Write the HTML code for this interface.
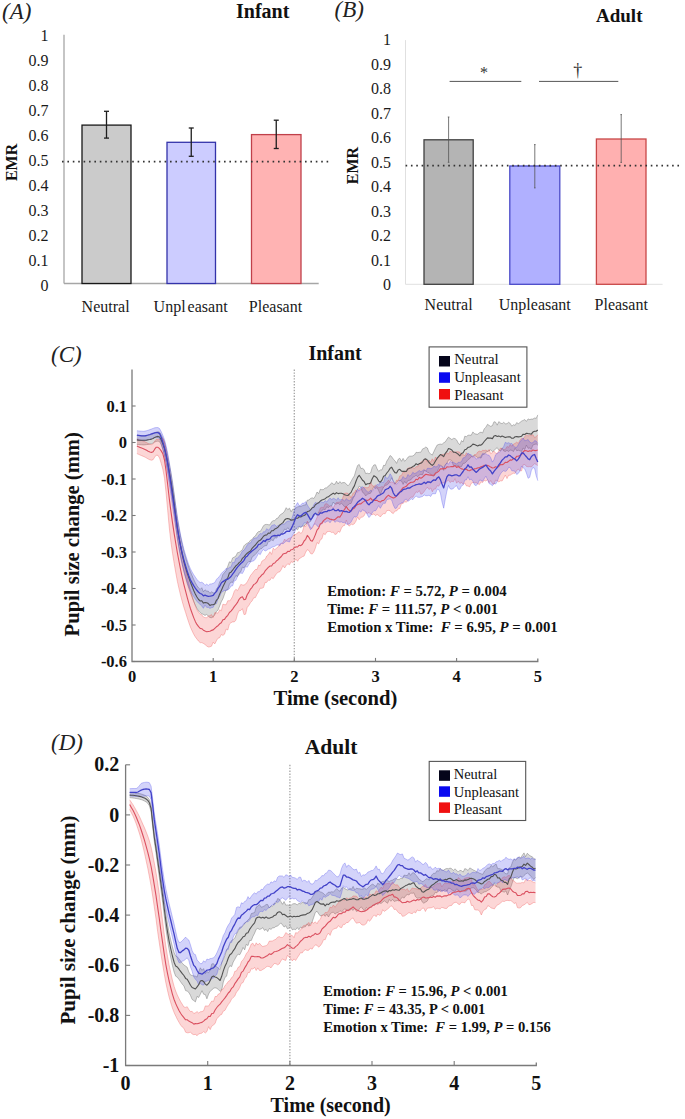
<!DOCTYPE html>
<html><head><meta charset="utf-8"><style>
html,body{margin:0;padding:0;background:#fff;width:685px;height:1119px;overflow:hidden;}
body{position:relative;font-family:"Liberation Serif", serif;}
</style></head><body>
<svg width="685" height="1119" viewBox="0 0 685 1119" style="position:absolute;left:0;top:0">
<text x="2" y="18.8" font-family="'Liberation Serif', serif" font-size="23" font-weight="normal" font-style="italic" text-anchor="start" fill="#222" >(A)</text>
<text x="236" y="17.8" font-family="'Liberation Serif', serif" font-size="20" font-weight="bold" font-style="normal" text-anchor="start" fill="#111" >Infant</text>
<line x1="64" y1="34.8" x2="64" y2="283.5" stroke="#a6a6a6" stroke-width="1.3"/>
<line x1="64" y1="283.5" x2="318.7" y2="283.5" stroke="#a6a6a6" stroke-width="1.3"/>
<text x="48.6" y="290.7" font-family="'Liberation Serif', serif" font-size="16" font-weight="normal" font-style="normal" text-anchor="end" fill="#1a1a1a" >0</text>
<text x="48.6" y="265.7" font-family="'Liberation Serif', serif" font-size="16" font-weight="normal" font-style="normal" text-anchor="end" fill="#1a1a1a" >0.1</text>
<text x="48.6" y="240.7" font-family="'Liberation Serif', serif" font-size="16" font-weight="normal" font-style="normal" text-anchor="end" fill="#1a1a1a" >0.2</text>
<text x="48.6" y="215.8" font-family="'Liberation Serif', serif" font-size="16" font-weight="normal" font-style="normal" text-anchor="end" fill="#1a1a1a" >0.3</text>
<text x="48.6" y="190.8" font-family="'Liberation Serif', serif" font-size="16" font-weight="normal" font-style="normal" text-anchor="end" fill="#1a1a1a" >0.4</text>
<text x="48.6" y="165.8" font-family="'Liberation Serif', serif" font-size="16" font-weight="normal" font-style="normal" text-anchor="end" fill="#1a1a1a" >0.5</text>
<text x="48.6" y="140.8" font-family="'Liberation Serif', serif" font-size="16" font-weight="normal" font-style="normal" text-anchor="end" fill="#1a1a1a" >0.6</text>
<text x="48.6" y="115.8" font-family="'Liberation Serif', serif" font-size="16" font-weight="normal" font-style="normal" text-anchor="end" fill="#1a1a1a" >0.7</text>
<text x="48.6" y="90.9" font-family="'Liberation Serif', serif" font-size="16" font-weight="normal" font-style="normal" text-anchor="end" fill="#1a1a1a" >0.8</text>
<text x="48.6" y="65.9" font-family="'Liberation Serif', serif" font-size="16" font-weight="normal" font-style="normal" text-anchor="end" fill="#1a1a1a" >0.9</text>
<text x="48.6" y="40.9" font-family="'Liberation Serif', serif" font-size="16" font-weight="normal" font-style="normal" text-anchor="end" fill="#1a1a1a" >1</text>
<text x="0" y="0" transform="translate(16.6,162.4) rotate(-90)" font-family="'Liberation Serif', serif" font-size="16" font-weight="bold" text-anchor="middle" fill="#111">EMR</text>
<rect x="82" y="125.1" width="49" height="158.4" fill="#cbcbcb" stroke="#181818" stroke-width="1.3"/>
<rect x="167" y="142.3" width="48.5" height="141.2" fill="#ccccff" stroke="#3333aa" stroke-width="1.3"/>
<rect x="251.5" y="134.6" width="49.5" height="148.9" fill="#ffb3b3" stroke="#c0404a" stroke-width="1.3"/>
<line x1="106.5" y1="111.3" x2="106.5" y2="138.1" stroke="#1e1e1e" stroke-width="1.3"/>
<line x1="104.0" y1="111.3" x2="109.0" y2="111.3" stroke="#1e1e1e" stroke-width="1.3"/>
<line x1="104.0" y1="138.1" x2="109.0" y2="138.1" stroke="#1e1e1e" stroke-width="1.3"/>
<line x1="191.25" y1="128.0" x2="191.25" y2="156.3" stroke="#1e1e1e" stroke-width="1.3"/>
<line x1="188.75" y1="128.0" x2="193.75" y2="128.0" stroke="#1e1e1e" stroke-width="1.3"/>
<line x1="188.75" y1="156.3" x2="193.75" y2="156.3" stroke="#1e1e1e" stroke-width="1.3"/>
<line x1="276.25" y1="120.2" x2="276.25" y2="148.5" stroke="#1e1e1e" stroke-width="1.3"/>
<line x1="273.75" y1="120.2" x2="278.75" y2="120.2" stroke="#1e1e1e" stroke-width="1.3"/>
<line x1="273.75" y1="148.5" x2="278.75" y2="148.5" stroke="#1e1e1e" stroke-width="1.3"/>
<line x1="62.0" y1="161.7" x2="332" y2="161.7" stroke="#333" stroke-width="1.7" stroke-dasharray="1.6 3.8"/>
<text x="105.6" y="311.5" font-family="'Liberation Serif', serif" font-size="16" font-weight="normal" font-style="normal" text-anchor="middle" fill="#1a1a1a" >Neutral</text>
<text x="190.6" y="311.5" font-family="'Liberation Serif', serif" font-size="16" font-weight="normal" font-style="normal" text-anchor="middle" fill="#1a1a1a" >Unpl<tspan dx="2">easant</tspan></text>
<text x="275.5" y="311.5" font-family="'Liberation Serif', serif" font-size="16" font-weight="normal" font-style="normal" text-anchor="middle" fill="#1a1a1a" >Pleasant</text>
<text x="334.5" y="16.6" font-family="'Liberation Serif', serif" font-size="23" font-weight="normal" font-style="italic" text-anchor="start" fill="#222" >(B)</text>
<text x="596" y="21.6" font-family="'Liberation Serif', serif" font-size="19" font-weight="bold" font-style="normal" text-anchor="start" fill="#111" >Adult</text>
<line x1="405.5" y1="40.1" x2="405.5" y2="284.3" stroke="#e0e0e0" stroke-width="1.0"/>
<line x1="405.5" y1="284.3" x2="662.6" y2="284.3" stroke="#e0e0e0" stroke-width="1.0"/>
<text x="391" y="290.3" font-family="'Liberation Serif', serif" font-size="16" font-weight="normal" font-style="normal" text-anchor="end" fill="#1a1a1a" >0</text>
<text x="391" y="265.8" font-family="'Liberation Serif', serif" font-size="16" font-weight="normal" font-style="normal" text-anchor="end" fill="#1a1a1a" >0.1</text>
<text x="391" y="241.3" font-family="'Liberation Serif', serif" font-size="16" font-weight="normal" font-style="normal" text-anchor="end" fill="#1a1a1a" >0.2</text>
<text x="391" y="216.8" font-family="'Liberation Serif', serif" font-size="16" font-weight="normal" font-style="normal" text-anchor="end" fill="#1a1a1a" >0.3</text>
<text x="391" y="192.3" font-family="'Liberation Serif', serif" font-size="16" font-weight="normal" font-style="normal" text-anchor="end" fill="#1a1a1a" >0.4</text>
<text x="391" y="167.8" font-family="'Liberation Serif', serif" font-size="16" font-weight="normal" font-style="normal" text-anchor="end" fill="#1a1a1a" >0.5</text>
<text x="391" y="143.3" font-family="'Liberation Serif', serif" font-size="16" font-weight="normal" font-style="normal" text-anchor="end" fill="#1a1a1a" >0.6</text>
<text x="391" y="118.8" font-family="'Liberation Serif', serif" font-size="16" font-weight="normal" font-style="normal" text-anchor="end" fill="#1a1a1a" >0.7</text>
<text x="391" y="94.3" font-family="'Liberation Serif', serif" font-size="16" font-weight="normal" font-style="normal" text-anchor="end" fill="#1a1a1a" >0.8</text>
<text x="391" y="69.8" font-family="'Liberation Serif', serif" font-size="16" font-weight="normal" font-style="normal" text-anchor="end" fill="#1a1a1a" >0.9</text>
<text x="391" y="45.3" font-family="'Liberation Serif', serif" font-size="16" font-weight="normal" font-style="normal" text-anchor="end" fill="#1a1a1a" >1</text>
<text x="0" y="0" transform="translate(358.3,165.6) rotate(-90)" font-family="'Liberation Serif', serif" font-size="16" font-weight="bold" text-anchor="middle" fill="#111">EMR</text>
<rect x="424" y="139.8" width="49.19999999999999" height="144.5" fill="#b4b4b4" stroke="#404040" stroke-width="1.3"/>
<rect x="509.8" y="166.0" width="49.99999999999994" height="118.3" fill="#b0b0ff" stroke="#4a4ac8" stroke-width="1.3"/>
<rect x="596.4" y="139.0" width="49.60000000000002" height="145.3" fill="#ffb0b0" stroke="#c84848" stroke-width="1.3"/>
<line x1="448.6" y1="117.0" x2="448.6" y2="162.3" stroke="#555" stroke-width="0.8"/>
<line x1="447.8" y1="117.0" x2="449.40000000000003" y2="117.0" stroke="#555" stroke-width="0.8"/>
<line x1="447.8" y1="162.3" x2="449.40000000000003" y2="162.3" stroke="#555" stroke-width="0.8"/>
<line x1="534.8" y1="144.6" x2="534.8" y2="187.9" stroke="#555" stroke-width="0.8"/>
<line x1="534.0" y1="144.6" x2="535.5999999999999" y2="144.6" stroke="#555" stroke-width="0.8"/>
<line x1="534.0" y1="187.9" x2="535.5999999999999" y2="187.9" stroke="#555" stroke-width="0.8"/>
<line x1="621.2" y1="114.6" x2="621.2" y2="162.4" stroke="#555" stroke-width="0.8"/>
<line x1="620.4000000000001" y1="114.6" x2="622.0" y2="114.6" stroke="#555" stroke-width="0.8"/>
<line x1="620.4000000000001" y1="162.4" x2="622.0" y2="162.4" stroke="#555" stroke-width="0.8"/>
<line x1="405.6" y1="165.7" x2="680" y2="165.7" stroke="#333" stroke-width="1.7" stroke-dasharray="1.6 3.73"/>
<text x="448.6" y="310" font-family="'Liberation Serif', serif" font-size="16" font-weight="normal" font-style="normal" text-anchor="middle" fill="#1a1a1a" >Neutral</text>
<text x="534.8" y="310" font-family="'Liberation Serif', serif" font-size="16" font-weight="normal" font-style="normal" text-anchor="middle" fill="#1a1a1a" >Unpleasant</text>
<text x="621.2" y="310" font-family="'Liberation Serif', serif" font-size="16" font-weight="normal" font-style="normal" text-anchor="middle" fill="#1a1a1a" >Pleasant</text>
<line x1="449.6" y1="81.4" x2="521.3" y2="81.4" stroke="#555" stroke-width="1"/>
<line x1="539" y1="81.4" x2="618.3" y2="81.4" stroke="#555" stroke-width="1"/>
<text x="484.1" y="78" font-family="'Liberation Serif', serif" font-size="16" font-weight="normal" font-style="normal" text-anchor="middle" fill="#333" >*</text>
<text x="577.7" y="75.5" font-family="'Liberation Serif', serif" font-size="18" font-weight="normal" font-style="normal" text-anchor="middle" fill="#333" >†</text>
<text x="51" y="361.5" font-family="'Liberation Serif', serif" font-size="23" font-weight="normal" font-style="italic" text-anchor="start" fill="#222" >(C)</text>
<text x="308.4" y="360" font-family="'Liberation Serif', serif" font-size="20" font-weight="bold" font-style="normal" text-anchor="start" fill="#111" >Infant</text>
<line x1="294.3" y1="369.5" x2="294.3" y2="661.5" stroke="#a4a4a4" stroke-width="1.3" stroke-dasharray="1.4 1.5"/>
<polygon points="136.9,435.5 138.5,435.6 140.1,435.7 141.7,435.8 143.4,435.8 145.0,435.7 146.6,435.5 148.2,435.2 149.9,434.9 151.5,434.5 153.1,433.8 154.7,432.7 156.3,432.0 158.0,431.7 159.6,432.2 161.2,434.7 162.8,438.1 164.5,442.7 166.1,448.5 167.7,455.7 169.3,463.9 171.0,473.0 172.6,482.6 174.2,494.2 175.8,506.9 177.4,518.9 179.1,528.8 180.7,537.3 182.3,544.8 183.9,551.5 185.6,557.4 187.2,562.6 188.8,567.3 190.4,571.6 192.1,575.6 193.7,579.4 195.3,582.8 196.9,585.6 198.6,588.0 200.2,589.4 201.8,587.7 203.4,591.8 205.0,589.8 206.7,591.1 208.3,591.1 209.9,593.3 211.5,591.8 213.2,592.8 214.8,593.3 216.4,589.0 218.0,586.9 219.7,581.9 221.3,579.4 222.9,574.5 224.5,572.6 226.1,570.8 227.8,566.2 229.4,561.8 231.0,562.5 232.6,557.9 234.3,557.1 235.9,556.1 237.5,552.7 239.1,552.4 240.8,551.0 242.4,549.7 244.0,545.8 245.6,544.2 247.2,543.3 248.9,542.3 250.5,540.2 252.1,539.5 253.7,537.1 255.4,536.0 257.0,533.0 258.6,531.6 260.2,531.5 261.9,528.7 263.5,525.7 265.1,524.6 266.7,524.4 268.3,524.7 270.0,524.9 271.6,521.8 273.2,520.7 274.8,520.7 276.5,518.5 278.1,518.0 279.7,515.3 281.3,514.1 283.0,513.1 284.6,511.1 286.2,507.7 287.8,509.6 289.5,508.2 291.1,511.8 292.7,509.3 294.3,509.2 295.9,508.0 297.6,506.9 299.2,506.5 300.8,506.5 302.4,505.7 304.1,505.0 305.7,505.0 307.3,500.2 308.9,500.0 310.6,498.4 312.2,497.8 313.8,498.5 315.4,496.0 317.0,492.0 318.7,493.6 320.3,489.3 321.9,489.7 323.5,489.6 325.2,487.9 326.8,487.9 328.4,485.9 330.0,485.0 331.7,482.7 333.3,484.1 334.9,484.3 336.5,481.2 338.1,484.0 339.8,481.6 341.4,483.1 343.0,482.6 344.6,482.6 346.3,483.9 347.9,485.9 349.5,484.2 351.1,481.4 352.8,478.3 354.4,475.8 356.0,470.2 357.6,465.5 359.2,464.4 360.9,468.5 362.5,468.3 364.1,469.6 365.7,473.6 367.4,473.2 369.0,473.8 370.6,472.9 372.2,467.5 373.9,464.9 375.5,464.8 377.1,468.8 378.7,471.4 380.3,469.9 382.0,469.9 383.6,465.3 385.2,465.5 386.8,461.1 388.5,458.5 390.1,455.5 391.7,456.7 393.3,459.2 395.0,460.8 396.6,463.4 398.2,459.3 399.8,458.2 401.5,461.3 403.1,458.4 404.7,461.3 406.3,459.7 407.9,457.3 409.6,456.2 411.2,456.2 412.8,455.9 414.4,455.0 416.1,452.3 417.7,452.6 419.3,452.3 420.9,452.2 422.6,448.9 424.2,448.3 425.8,447.0 427.4,448.0 429.0,452.4 430.7,453.9 432.3,455.1 433.9,451.5 435.5,448.1 437.2,445.0 438.8,444.4 440.4,444.1 442.0,444.4 443.7,442.8 445.3,441.9 446.9,439.3 448.5,437.2 450.1,438.3 451.8,439.6 453.4,438.4 455.0,438.5 456.6,439.9 458.3,443.3 459.9,444.7 461.5,440.6 463.1,442.0 464.8,436.2 466.4,436.7 468.0,435.2 469.6,435.2 471.2,435.3 472.9,431.9 474.5,433.7 476.1,434.1 477.7,434.3 479.4,432.8 481.0,432.1 482.6,433.0 484.2,428.9 485.9,427.2 487.5,424.3 489.1,425.4 490.7,426.4 492.4,425.6 494.0,421.7 495.6,422.2 497.2,425.2 498.8,421.6 500.5,423.0 502.1,423.7 503.7,422.3 505.3,423.8 507.0,423.7 508.6,422.3 510.2,423.4 511.8,426.2 513.5,424.7 515.1,425.4 516.7,422.6 518.3,423.7 519.9,422.5 521.6,421.1 523.2,420.4 524.8,419.6 526.4,421.4 528.1,418.9 529.7,419.6 531.3,419.1 532.9,419.1 534.6,418.0 536.2,418.4 537.8,414.9 537.8,445.2 536.2,443.9 534.6,444.4 532.9,445.0 531.3,449.3 529.7,448.0 528.1,448.3 526.4,445.1 524.8,449.5 523.2,448.0 521.6,451.4 519.9,450.8 518.3,450.2 516.7,450.7 515.1,448.2 513.5,451.5 511.8,450.4 510.2,450.1 508.6,451.5 507.0,450.4 505.3,451.4 503.7,451.0 502.1,448.2 500.5,450.9 498.8,450.3 497.2,447.6 495.6,449.0 494.0,450.5 492.4,451.7 490.7,449.8 489.1,450.8 487.5,451.5 485.9,452.1 484.2,454.2 482.6,454.5 481.0,458.2 479.4,457.2 477.7,457.6 476.1,456.4 474.5,455.4 472.9,456.2 471.2,456.7 469.6,458.8 468.0,459.6 466.4,461.7 464.8,463.2 463.1,463.4 461.5,466.5 459.9,466.8 458.3,465.4 456.6,466.2 455.0,465.9 453.4,465.7 451.8,460.5 450.1,459.9 448.5,459.9 446.9,463.5 445.3,464.7 443.7,470.4 442.0,466.1 440.4,465.0 438.8,468.3 437.2,471.4 435.5,473.9 433.9,476.2 432.3,475.7 430.7,474.5 429.0,472.6 427.4,472.3 425.8,470.8 424.2,470.3 422.6,474.7 420.9,474.4 419.3,474.9 417.7,476.8 416.1,475.1 414.4,476.6 412.8,477.2 411.2,479.5 409.6,480.3 407.9,480.5 406.3,483.4 404.7,481.4 403.1,484.4 401.5,481.0 399.8,480.5 398.2,480.6 396.6,482.6 395.0,484.3 393.3,481.5 391.7,477.7 390.1,481.1 388.5,483.6 386.8,485.0 385.2,485.5 383.6,487.0 382.0,490.3 380.3,494.5 378.7,490.7 377.1,487.6 375.5,488.6 373.9,486.5 372.2,489.8 370.6,493.2 369.0,493.7 367.4,494.1 365.7,496.0 364.1,493.4 362.5,492.3 360.9,487.1 359.2,486.2 357.6,489.4 356.0,492.3 354.4,495.9 352.8,498.9 351.1,503.4 349.5,503.7 347.9,505.0 346.3,506.5 344.6,506.8 343.0,504.9 341.4,503.2 339.8,504.7 338.1,503.2 336.5,504.0 334.9,504.1 333.3,502.0 331.7,505.9 330.0,505.8 328.4,507.7 326.8,506.7 325.2,509.6 323.5,509.3 321.9,510.4 320.3,512.8 318.7,512.1 317.0,515.3 315.4,513.6 313.8,515.9 312.2,517.6 310.6,521.4 308.9,522.5 307.3,522.8 305.7,524.0 304.1,526.0 302.4,526.3 300.8,527.5 299.2,526.7 297.6,529.8 295.9,528.3 294.3,530.4 292.7,530.6 291.1,528.8 289.5,529.9 287.8,527.7 286.2,529.8 284.6,529.0 283.0,532.1 281.3,533.6 279.7,534.6 278.1,536.2 276.5,538.2 274.8,537.6 273.2,540.8 271.6,539.7 270.0,541.5 268.3,541.6 266.7,545.6 265.1,545.7 263.5,546.6 261.9,548.4 260.2,549.0 258.6,550.4 257.0,552.8 255.4,554.1 253.7,556.0 252.1,557.0 250.5,561.7 248.9,561.4 247.2,563.1 245.6,565.6 244.0,567.9 242.4,567.0 240.8,571.8 239.1,572.9 237.5,576.5 235.9,575.5 234.3,578.6 232.6,582.5 231.0,582.0 229.4,584.3 227.8,589.6 226.1,589.8 224.5,594.3 222.9,598.8 221.3,601.7 219.7,605.9 218.0,610.1 216.4,611.5 214.8,614.7 213.2,616.8 211.5,617.7 209.9,617.5 208.3,616.1 206.7,614.5 205.0,615.4 203.4,614.4 201.8,613.8 200.2,612.6 198.6,610.9 196.9,608.3 195.3,605.2 193.7,601.5 192.1,597.3 190.4,593.0 188.8,588.5 187.2,583.5 185.6,578.0 183.9,571.8 182.3,564.8 180.7,557.0 179.1,548.2 177.4,538.1 175.8,525.7 174.2,512.7 172.6,500.9 171.0,490.1 169.3,479.8 167.7,470.4 166.1,462.1 164.5,455.1 162.8,449.4 161.2,444.8 159.6,441.7 158.0,441.1 156.3,441.4 154.7,442.0 153.1,443.1 151.5,443.7 149.9,444.1 148.2,444.4 146.6,444.6 145.0,444.8 143.4,444.9 141.7,444.8 140.1,444.7 138.5,444.5 136.9,444.4" fill="rgba(110,110,110,0.26)" stroke="none"/>
<polyline points="136.9,435.5 138.5,435.6 140.1,435.7 141.7,435.8 143.4,435.8 145.0,435.7 146.6,435.5 148.2,435.2 149.9,434.9 151.5,434.5 153.1,433.8 154.7,432.7 156.3,432.0 158.0,431.7 159.6,432.2 161.2,434.7 162.8,438.1 164.5,442.7 166.1,448.5 167.7,455.7 169.3,463.9 171.0,473.0 172.6,482.6 174.2,494.2 175.8,506.9 177.4,518.9 179.1,528.8 180.7,537.3 182.3,544.8 183.9,551.5 185.6,557.4 187.2,562.6 188.8,567.3 190.4,571.6 192.1,575.6 193.7,579.4 195.3,582.8 196.9,585.6 198.6,588.0 200.2,589.4 201.8,587.7 203.4,591.8 205.0,589.8 206.7,591.1 208.3,591.1 209.9,593.3 211.5,591.8 213.2,592.8 214.8,593.3 216.4,589.0 218.0,586.9 219.7,581.9 221.3,579.4 222.9,574.5 224.5,572.6 226.1,570.8 227.8,566.2 229.4,561.8 231.0,562.5 232.6,557.9 234.3,557.1 235.9,556.1 237.5,552.7 239.1,552.4 240.8,551.0 242.4,549.7 244.0,545.8 245.6,544.2 247.2,543.3 248.9,542.3 250.5,540.2 252.1,539.5 253.7,537.1 255.4,536.0 257.0,533.0 258.6,531.6 260.2,531.5 261.9,528.7 263.5,525.7 265.1,524.6 266.7,524.4 268.3,524.7 270.0,524.9 271.6,521.8 273.2,520.7 274.8,520.7 276.5,518.5 278.1,518.0 279.7,515.3 281.3,514.1 283.0,513.1 284.6,511.1 286.2,507.7 287.8,509.6 289.5,508.2 291.1,511.8 292.7,509.3 294.3,509.2 295.9,508.0 297.6,506.9 299.2,506.5 300.8,506.5 302.4,505.7 304.1,505.0 305.7,505.0 307.3,500.2 308.9,500.0 310.6,498.4 312.2,497.8 313.8,498.5 315.4,496.0 317.0,492.0 318.7,493.6 320.3,489.3 321.9,489.7 323.5,489.6 325.2,487.9 326.8,487.9 328.4,485.9 330.0,485.0 331.7,482.7 333.3,484.1 334.9,484.3 336.5,481.2 338.1,484.0 339.8,481.6 341.4,483.1 343.0,482.6 344.6,482.6 346.3,483.9 347.9,485.9 349.5,484.2 351.1,481.4 352.8,478.3 354.4,475.8 356.0,470.2 357.6,465.5 359.2,464.4 360.9,468.5 362.5,468.3 364.1,469.6 365.7,473.6 367.4,473.2 369.0,473.8 370.6,472.9 372.2,467.5 373.9,464.9 375.5,464.8 377.1,468.8 378.7,471.4 380.3,469.9 382.0,469.9 383.6,465.3 385.2,465.5 386.8,461.1 388.5,458.5 390.1,455.5 391.7,456.7 393.3,459.2 395.0,460.8 396.6,463.4 398.2,459.3 399.8,458.2 401.5,461.3 403.1,458.4 404.7,461.3 406.3,459.7 407.9,457.3 409.6,456.2 411.2,456.2 412.8,455.9 414.4,455.0 416.1,452.3 417.7,452.6 419.3,452.3 420.9,452.2 422.6,448.9 424.2,448.3 425.8,447.0 427.4,448.0 429.0,452.4 430.7,453.9 432.3,455.1 433.9,451.5 435.5,448.1 437.2,445.0 438.8,444.4 440.4,444.1 442.0,444.4 443.7,442.8 445.3,441.9 446.9,439.3 448.5,437.2 450.1,438.3 451.8,439.6 453.4,438.4 455.0,438.5 456.6,439.9 458.3,443.3 459.9,444.7 461.5,440.6 463.1,442.0 464.8,436.2 466.4,436.7 468.0,435.2 469.6,435.2 471.2,435.3 472.9,431.9 474.5,433.7 476.1,434.1 477.7,434.3 479.4,432.8 481.0,432.1 482.6,433.0 484.2,428.9 485.9,427.2 487.5,424.3 489.1,425.4 490.7,426.4 492.4,425.6 494.0,421.7 495.6,422.2 497.2,425.2 498.8,421.6 500.5,423.0 502.1,423.7 503.7,422.3 505.3,423.8 507.0,423.7 508.6,422.3 510.2,423.4 511.8,426.2 513.5,424.7 515.1,425.4 516.7,422.6 518.3,423.7 519.9,422.5 521.6,421.1 523.2,420.4 524.8,419.6 526.4,421.4 528.1,418.9 529.7,419.6 531.3,419.1 532.9,419.1 534.6,418.0 536.2,418.4 537.8,414.9" fill="none" stroke="rgba(90,90,90,0.42)" stroke-width="0.9"/>
<polyline points="136.9,444.4 138.5,444.5 140.1,444.7 141.7,444.8 143.4,444.9 145.0,444.8 146.6,444.6 148.2,444.4 149.9,444.1 151.5,443.7 153.1,443.1 154.7,442.0 156.3,441.4 158.0,441.1 159.6,441.7 161.2,444.8 162.8,449.4 164.5,455.1 166.1,462.1 167.7,470.4 169.3,479.8 171.0,490.1 172.6,500.9 174.2,512.7 175.8,525.7 177.4,538.1 179.1,548.2 180.7,557.0 182.3,564.8 183.9,571.8 185.6,578.0 187.2,583.5 188.8,588.5 190.4,593.0 192.1,597.3 193.7,601.5 195.3,605.2 196.9,608.3 198.6,610.9 200.2,612.6 201.8,613.8 203.4,614.4 205.0,615.4 206.7,614.5 208.3,616.1 209.9,617.5 211.5,617.7 213.2,616.8 214.8,614.7 216.4,611.5 218.0,610.1 219.7,605.9 221.3,601.7 222.9,598.8 224.5,594.3 226.1,589.8 227.8,589.6 229.4,584.3 231.0,582.0 232.6,582.5 234.3,578.6 235.9,575.5 237.5,576.5 239.1,572.9 240.8,571.8 242.4,567.0 244.0,567.9 245.6,565.6 247.2,563.1 248.9,561.4 250.5,561.7 252.1,557.0 253.7,556.0 255.4,554.1 257.0,552.8 258.6,550.4 260.2,549.0 261.9,548.4 263.5,546.6 265.1,545.7 266.7,545.6 268.3,541.6 270.0,541.5 271.6,539.7 273.2,540.8 274.8,537.6 276.5,538.2 278.1,536.2 279.7,534.6 281.3,533.6 283.0,532.1 284.6,529.0 286.2,529.8 287.8,527.7 289.5,529.9 291.1,528.8 292.7,530.6 294.3,530.4 295.9,528.3 297.6,529.8 299.2,526.7 300.8,527.5 302.4,526.3 304.1,526.0 305.7,524.0 307.3,522.8 308.9,522.5 310.6,521.4 312.2,517.6 313.8,515.9 315.4,513.6 317.0,515.3 318.7,512.1 320.3,512.8 321.9,510.4 323.5,509.3 325.2,509.6 326.8,506.7 328.4,507.7 330.0,505.8 331.7,505.9 333.3,502.0 334.9,504.1 336.5,504.0 338.1,503.2 339.8,504.7 341.4,503.2 343.0,504.9 344.6,506.8 346.3,506.5 347.9,505.0 349.5,503.7 351.1,503.4 352.8,498.9 354.4,495.9 356.0,492.3 357.6,489.4 359.2,486.2 360.9,487.1 362.5,492.3 364.1,493.4 365.7,496.0 367.4,494.1 369.0,493.7 370.6,493.2 372.2,489.8 373.9,486.5 375.5,488.6 377.1,487.6 378.7,490.7 380.3,494.5 382.0,490.3 383.6,487.0 385.2,485.5 386.8,485.0 388.5,483.6 390.1,481.1 391.7,477.7 393.3,481.5 395.0,484.3 396.6,482.6 398.2,480.6 399.8,480.5 401.5,481.0 403.1,484.4 404.7,481.4 406.3,483.4 407.9,480.5 409.6,480.3 411.2,479.5 412.8,477.2 414.4,476.6 416.1,475.1 417.7,476.8 419.3,474.9 420.9,474.4 422.6,474.7 424.2,470.3 425.8,470.8 427.4,472.3 429.0,472.6 430.7,474.5 432.3,475.7 433.9,476.2 435.5,473.9 437.2,471.4 438.8,468.3 440.4,465.0 442.0,466.1 443.7,470.4 445.3,464.7 446.9,463.5 448.5,459.9 450.1,459.9 451.8,460.5 453.4,465.7 455.0,465.9 456.6,466.2 458.3,465.4 459.9,466.8 461.5,466.5 463.1,463.4 464.8,463.2 466.4,461.7 468.0,459.6 469.6,458.8 471.2,456.7 472.9,456.2 474.5,455.4 476.1,456.4 477.7,457.6 479.4,457.2 481.0,458.2 482.6,454.5 484.2,454.2 485.9,452.1 487.5,451.5 489.1,450.8 490.7,449.8 492.4,451.7 494.0,450.5 495.6,449.0 497.2,447.6 498.8,450.3 500.5,450.9 502.1,448.2 503.7,451.0 505.3,451.4 507.0,450.4 508.6,451.5 510.2,450.1 511.8,450.4 513.5,451.5 515.1,448.2 516.7,450.7 518.3,450.2 519.9,450.8 521.6,451.4 523.2,448.0 524.8,449.5 526.4,445.1 528.1,448.3 529.7,448.0 531.3,449.3 532.9,445.0 534.6,444.4 536.2,443.9 537.8,445.2" fill="none" stroke="rgba(90,90,90,0.42)" stroke-width="0.9"/>
<polygon points="136.9,438.7 138.5,439.3 140.1,439.9 141.7,440.5 143.4,441.1 145.0,441.8 146.6,442.6 148.2,443.5 149.9,444.2 151.5,444.6 153.1,443.9 154.7,441.2 156.3,439.3 158.0,439.3 159.6,439.2 161.2,438.5 162.8,438.3 164.5,441.8 166.1,449.3 167.7,459.2 169.3,469.6 171.0,481.1 172.6,493.0 174.2,503.9 175.8,514.1 177.4,524.6 179.1,535.0 180.7,544.7 182.3,553.6 183.9,562.0 185.6,569.7 187.2,576.8 188.8,583.6 190.4,590.0 192.1,595.8 193.7,601.1 195.3,605.8 196.9,609.8 198.6,612.3 200.2,614.1 201.8,614.8 203.4,617.0 205.0,617.7 206.7,617.6 208.3,616.0 209.9,615.7 211.5,614.6 213.2,617.5 214.8,612.7 216.4,612.8 218.0,613.2 219.7,609.8 221.3,610.8 222.9,604.2 224.5,604.6 226.1,604.8 227.8,600.7 229.4,600.8 231.0,599.5 232.6,596.3 234.3,591.2 235.9,589.2 237.5,590.7 239.1,587.8 240.8,584.4 242.4,584.9 244.0,585.1 245.6,584.1 247.2,581.9 248.9,578.8 250.5,575.5 252.1,573.6 253.7,571.4 255.4,569.5 257.0,569.5 258.6,565.1 260.2,565.6 261.9,561.2 263.5,560.1 265.1,559.4 266.7,556.0 268.3,554.6 270.0,551.7 271.6,554.4 273.2,548.2 274.8,549.7 276.5,548.2 278.1,547.0 279.7,544.2 281.3,543.6 283.0,542.5 284.6,539.1 286.2,540.7 287.8,538.8 289.5,538.2 291.1,537.7 292.7,536.6 294.3,534.3 295.9,534.6 297.6,532.7 299.2,531.7 300.8,533.5 302.4,531.8 304.1,525.8 305.7,526.5 307.3,521.0 308.9,524.2 310.6,527.6 312.2,528.4 313.8,524.9 315.4,521.1 317.0,517.6 318.7,512.3 320.3,507.9 321.9,507.2 323.5,507.7 325.2,503.9 326.8,503.7 328.4,504.8 330.0,507.0 331.7,506.3 333.3,507.8 334.9,504.6 336.5,502.3 338.1,502.3 339.8,501.9 341.4,501.5 343.0,497.1 344.6,493.3 346.3,493.0 347.9,493.3 349.5,495.1 351.1,498.0 352.8,493.4 354.4,492.5 356.0,489.8 357.6,492.3 359.2,487.9 360.9,490.4 362.5,487.9 364.1,487.1 365.7,487.7 367.4,487.7 369.0,487.1 370.6,482.0 372.2,485.5 373.9,486.3 375.5,485.2 377.1,486.4 378.7,487.7 380.3,487.3 382.0,486.5 383.6,487.3 385.2,483.6 386.8,482.5 388.5,480.1 390.1,482.6 391.7,481.8 393.3,482.7 395.0,484.0 396.6,480.1 398.2,480.4 399.8,475.9 401.5,475.4 403.1,471.9 404.7,472.7 406.3,470.4 407.9,468.1 409.6,467.8 411.2,467.3 412.8,467.4 414.4,468.5 416.1,466.6 417.7,466.8 419.3,464.2 420.9,462.1 422.6,461.1 424.2,459.4 425.8,459.2 427.4,462.1 429.0,460.2 430.7,462.3 432.3,458.8 433.9,461.4 435.5,457.0 437.2,459.2 438.8,456.0 440.4,454.8 442.0,454.7 443.7,454.4 445.3,454.2 446.9,452.7 448.5,453.9 450.1,451.1 451.8,451.9 453.4,451.3 455.0,452.4 456.6,451.8 458.3,451.8 459.9,452.3 461.5,455.3 463.1,454.3 464.8,456.1 466.4,452.7 468.0,455.0 469.6,454.6 471.2,456.2 472.9,457.3 474.5,454.6 476.1,454.7 477.7,452.1 479.4,451.1 481.0,451.8 482.6,450.3 484.2,450.5 485.9,450.0 487.5,451.2 489.1,449.5 490.7,453.7 492.4,452.5 494.0,451.1 495.6,453.2 497.2,453.6 498.8,450.9 500.5,448.1 502.1,448.6 503.7,449.7 505.3,449.5 507.0,446.5 508.6,447.3 510.2,444.5 511.8,446.3 513.5,444.1 515.1,443.4 516.7,442.1 518.3,443.4 519.9,440.2 521.6,438.2 523.2,439.0 524.8,436.4 526.4,434.9 528.1,436.1 529.7,434.8 531.3,435.6 532.9,434.6 534.6,437.7 536.2,436.7 537.8,434.7 537.8,465.5 536.2,464.6 534.6,463.6 532.9,465.3 531.3,467.0 529.7,466.6 528.1,466.8 526.4,466.4 524.8,464.5 523.2,464.6 521.6,470.8 519.9,470.8 518.3,469.2 516.7,470.4 515.1,473.3 513.5,473.2 511.8,474.1 510.2,475.2 508.6,475.3 507.0,478.6 505.3,475.1 503.7,478.2 502.1,481.0 500.5,480.8 498.8,481.9 497.2,480.7 495.6,480.1 494.0,484.3 492.4,483.6 490.7,480.5 489.1,482.7 487.5,479.5 485.9,481.1 484.2,480.2 482.6,482.5 481.0,481.8 479.4,484.6 477.7,483.7 476.1,482.6 474.5,482.8 472.9,482.4 471.2,483.4 469.6,486.9 468.0,486.0 466.4,485.9 464.8,483.0 463.1,484.3 461.5,482.4 459.9,483.5 458.3,481.2 456.6,483.2 455.0,478.6 453.4,481.8 451.8,481.2 450.1,482.5 448.5,480.1 446.9,481.1 445.3,483.4 443.7,482.9 442.0,483.0 440.4,483.1 438.8,486.2 437.2,485.6 435.5,489.1 433.9,489.1 432.3,491.8 430.7,488.0 429.0,489.5 427.4,487.2 425.8,489.1 424.2,491.5 422.6,493.4 420.9,494.3 419.3,490.6 417.7,492.5 416.1,491.8 414.4,494.5 412.8,497.3 411.2,497.1 409.6,498.4 407.9,500.6 406.3,502.3 404.7,501.5 403.1,503.6 401.5,503.5 399.8,508.5 398.2,508.9 396.6,511.0 395.0,511.0 393.3,513.6 391.7,512.7 390.1,510.7 388.5,510.4 386.8,510.6 385.2,513.7 383.6,513.6 382.0,514.7 380.3,517.0 378.7,515.4 377.1,514.4 375.5,515.7 373.9,513.9 372.2,514.7 370.6,514.1 369.0,512.4 367.4,513.5 365.7,512.3 364.1,515.8 362.5,517.0 360.9,517.3 359.2,519.8 357.6,516.8 356.0,521.1 354.4,523.7 352.8,524.7 351.1,524.0 349.5,526.1 347.9,524.9 346.3,520.1 344.6,525.5 343.0,525.8 341.4,528.2 339.8,532.3 338.1,531.3 336.5,534.0 334.9,534.5 333.3,532.1 331.7,532.6 330.0,531.4 328.4,531.5 326.8,531.9 325.2,534.7 323.5,533.4 321.9,538.9 320.3,539.8 318.7,543.9 317.0,542.5 315.4,548.1 313.8,551.9 312.2,554.1 310.6,553.5 308.9,550.5 307.3,549.7 305.7,552.2 304.1,556.1 302.4,556.7 300.8,557.8 299.2,558.7 297.6,561.3 295.9,559.2 294.3,561.1 292.7,562.4 291.1,561.7 289.5,564.8 287.8,563.8 286.2,565.5 284.6,568.0 283.0,565.6 281.3,569.5 279.7,571.9 278.1,572.3 276.5,573.6 274.8,576.2 273.2,578.7 271.6,577.6 270.0,580.3 268.3,580.1 266.7,582.4 265.1,582.4 263.5,587.5 261.9,588.3 260.2,588.2 258.6,591.7 257.0,594.3 255.4,597.6 253.7,597.8 252.1,600.9 250.5,602.6 248.9,605.4 247.2,607.5 245.6,614.2 244.0,614.6 242.4,608.7 240.8,610.4 239.1,610.7 237.5,614.1 235.9,620.1 234.3,621.9 232.6,621.9 231.0,622.7 229.4,624.1 227.8,630.0 226.1,629.1 224.5,634.2 222.9,635.4 221.3,634.5 219.7,637.7 218.0,638.2 216.4,640.8 214.8,643.9 213.2,642.2 211.5,646.2 209.9,646.8 208.3,647.0 206.7,646.0 205.0,644.5 203.4,643.4 201.8,642.6 200.2,642.7 198.6,641.2 196.9,639.0 195.3,636.9 193.7,634.2 192.1,630.9 190.4,627.0 188.8,622.6 187.2,617.7 185.6,612.6 183.9,607.3 182.3,601.8 180.7,595.8 179.1,589.1 177.4,581.5 175.8,572.9 174.2,563.6 172.6,553.7 171.0,542.7 169.3,528.0 167.7,510.3 166.1,493.1 164.5,478.3 162.8,469.0 161.2,463.3 159.6,458.2 158.0,455.4 156.3,455.2 154.7,457.1 153.1,459.7 151.5,460.2 149.9,459.8 148.2,459.0 146.6,458.0 145.0,457.1 143.4,456.4 141.7,455.7 140.1,455.0 138.5,454.3 136.9,453.6" fill="rgba(240,70,70,0.22)" stroke="none"/>
<polyline points="136.9,438.7 138.5,439.3 140.1,439.9 141.7,440.5 143.4,441.1 145.0,441.8 146.6,442.6 148.2,443.5 149.9,444.2 151.5,444.6 153.1,443.9 154.7,441.2 156.3,439.3 158.0,439.3 159.6,439.2 161.2,438.5 162.8,438.3 164.5,441.8 166.1,449.3 167.7,459.2 169.3,469.6 171.0,481.1 172.6,493.0 174.2,503.9 175.8,514.1 177.4,524.6 179.1,535.0 180.7,544.7 182.3,553.6 183.9,562.0 185.6,569.7 187.2,576.8 188.8,583.6 190.4,590.0 192.1,595.8 193.7,601.1 195.3,605.8 196.9,609.8 198.6,612.3 200.2,614.1 201.8,614.8 203.4,617.0 205.0,617.7 206.7,617.6 208.3,616.0 209.9,615.7 211.5,614.6 213.2,617.5 214.8,612.7 216.4,612.8 218.0,613.2 219.7,609.8 221.3,610.8 222.9,604.2 224.5,604.6 226.1,604.8 227.8,600.7 229.4,600.8 231.0,599.5 232.6,596.3 234.3,591.2 235.9,589.2 237.5,590.7 239.1,587.8 240.8,584.4 242.4,584.9 244.0,585.1 245.6,584.1 247.2,581.9 248.9,578.8 250.5,575.5 252.1,573.6 253.7,571.4 255.4,569.5 257.0,569.5 258.6,565.1 260.2,565.6 261.9,561.2 263.5,560.1 265.1,559.4 266.7,556.0 268.3,554.6 270.0,551.7 271.6,554.4 273.2,548.2 274.8,549.7 276.5,548.2 278.1,547.0 279.7,544.2 281.3,543.6 283.0,542.5 284.6,539.1 286.2,540.7 287.8,538.8 289.5,538.2 291.1,537.7 292.7,536.6 294.3,534.3 295.9,534.6 297.6,532.7 299.2,531.7 300.8,533.5 302.4,531.8 304.1,525.8 305.7,526.5 307.3,521.0 308.9,524.2 310.6,527.6 312.2,528.4 313.8,524.9 315.4,521.1 317.0,517.6 318.7,512.3 320.3,507.9 321.9,507.2 323.5,507.7 325.2,503.9 326.8,503.7 328.4,504.8 330.0,507.0 331.7,506.3 333.3,507.8 334.9,504.6 336.5,502.3 338.1,502.3 339.8,501.9 341.4,501.5 343.0,497.1 344.6,493.3 346.3,493.0 347.9,493.3 349.5,495.1 351.1,498.0 352.8,493.4 354.4,492.5 356.0,489.8 357.6,492.3 359.2,487.9 360.9,490.4 362.5,487.9 364.1,487.1 365.7,487.7 367.4,487.7 369.0,487.1 370.6,482.0 372.2,485.5 373.9,486.3 375.5,485.2 377.1,486.4 378.7,487.7 380.3,487.3 382.0,486.5 383.6,487.3 385.2,483.6 386.8,482.5 388.5,480.1 390.1,482.6 391.7,481.8 393.3,482.7 395.0,484.0 396.6,480.1 398.2,480.4 399.8,475.9 401.5,475.4 403.1,471.9 404.7,472.7 406.3,470.4 407.9,468.1 409.6,467.8 411.2,467.3 412.8,467.4 414.4,468.5 416.1,466.6 417.7,466.8 419.3,464.2 420.9,462.1 422.6,461.1 424.2,459.4 425.8,459.2 427.4,462.1 429.0,460.2 430.7,462.3 432.3,458.8 433.9,461.4 435.5,457.0 437.2,459.2 438.8,456.0 440.4,454.8 442.0,454.7 443.7,454.4 445.3,454.2 446.9,452.7 448.5,453.9 450.1,451.1 451.8,451.9 453.4,451.3 455.0,452.4 456.6,451.8 458.3,451.8 459.9,452.3 461.5,455.3 463.1,454.3 464.8,456.1 466.4,452.7 468.0,455.0 469.6,454.6 471.2,456.2 472.9,457.3 474.5,454.6 476.1,454.7 477.7,452.1 479.4,451.1 481.0,451.8 482.6,450.3 484.2,450.5 485.9,450.0 487.5,451.2 489.1,449.5 490.7,453.7 492.4,452.5 494.0,451.1 495.6,453.2 497.2,453.6 498.8,450.9 500.5,448.1 502.1,448.6 503.7,449.7 505.3,449.5 507.0,446.5 508.6,447.3 510.2,444.5 511.8,446.3 513.5,444.1 515.1,443.4 516.7,442.1 518.3,443.4 519.9,440.2 521.6,438.2 523.2,439.0 524.8,436.4 526.4,434.9 528.1,436.1 529.7,434.8 531.3,435.6 532.9,434.6 534.6,437.7 536.2,436.7 537.8,434.7" fill="none" stroke="rgba(240,70,70,0.35)" stroke-width="0.9"/>
<polyline points="136.9,453.6 138.5,454.3 140.1,455.0 141.7,455.7 143.4,456.4 145.0,457.1 146.6,458.0 148.2,459.0 149.9,459.8 151.5,460.2 153.1,459.7 154.7,457.1 156.3,455.2 158.0,455.4 159.6,458.2 161.2,463.3 162.8,469.0 164.5,478.3 166.1,493.1 167.7,510.3 169.3,528.0 171.0,542.7 172.6,553.7 174.2,563.6 175.8,572.9 177.4,581.5 179.1,589.1 180.7,595.8 182.3,601.8 183.9,607.3 185.6,612.6 187.2,617.7 188.8,622.6 190.4,627.0 192.1,630.9 193.7,634.2 195.3,636.9 196.9,639.0 198.6,641.2 200.2,642.7 201.8,642.6 203.4,643.4 205.0,644.5 206.7,646.0 208.3,647.0 209.9,646.8 211.5,646.2 213.2,642.2 214.8,643.9 216.4,640.8 218.0,638.2 219.7,637.7 221.3,634.5 222.9,635.4 224.5,634.2 226.1,629.1 227.8,630.0 229.4,624.1 231.0,622.7 232.6,621.9 234.3,621.9 235.9,620.1 237.5,614.1 239.1,610.7 240.8,610.4 242.4,608.7 244.0,614.6 245.6,614.2 247.2,607.5 248.9,605.4 250.5,602.6 252.1,600.9 253.7,597.8 255.4,597.6 257.0,594.3 258.6,591.7 260.2,588.2 261.9,588.3 263.5,587.5 265.1,582.4 266.7,582.4 268.3,580.1 270.0,580.3 271.6,577.6 273.2,578.7 274.8,576.2 276.5,573.6 278.1,572.3 279.7,571.9 281.3,569.5 283.0,565.6 284.6,568.0 286.2,565.5 287.8,563.8 289.5,564.8 291.1,561.7 292.7,562.4 294.3,561.1 295.9,559.2 297.6,561.3 299.2,558.7 300.8,557.8 302.4,556.7 304.1,556.1 305.7,552.2 307.3,549.7 308.9,550.5 310.6,553.5 312.2,554.1 313.8,551.9 315.4,548.1 317.0,542.5 318.7,543.9 320.3,539.8 321.9,538.9 323.5,533.4 325.2,534.7 326.8,531.9 328.4,531.5 330.0,531.4 331.7,532.6 333.3,532.1 334.9,534.5 336.5,534.0 338.1,531.3 339.8,532.3 341.4,528.2 343.0,525.8 344.6,525.5 346.3,520.1 347.9,524.9 349.5,526.1 351.1,524.0 352.8,524.7 354.4,523.7 356.0,521.1 357.6,516.8 359.2,519.8 360.9,517.3 362.5,517.0 364.1,515.8 365.7,512.3 367.4,513.5 369.0,512.4 370.6,514.1 372.2,514.7 373.9,513.9 375.5,515.7 377.1,514.4 378.7,515.4 380.3,517.0 382.0,514.7 383.6,513.6 385.2,513.7 386.8,510.6 388.5,510.4 390.1,510.7 391.7,512.7 393.3,513.6 395.0,511.0 396.6,511.0 398.2,508.9 399.8,508.5 401.5,503.5 403.1,503.6 404.7,501.5 406.3,502.3 407.9,500.6 409.6,498.4 411.2,497.1 412.8,497.3 414.4,494.5 416.1,491.8 417.7,492.5 419.3,490.6 420.9,494.3 422.6,493.4 424.2,491.5 425.8,489.1 427.4,487.2 429.0,489.5 430.7,488.0 432.3,491.8 433.9,489.1 435.5,489.1 437.2,485.6 438.8,486.2 440.4,483.1 442.0,483.0 443.7,482.9 445.3,483.4 446.9,481.1 448.5,480.1 450.1,482.5 451.8,481.2 453.4,481.8 455.0,478.6 456.6,483.2 458.3,481.2 459.9,483.5 461.5,482.4 463.1,484.3 464.8,483.0 466.4,485.9 468.0,486.0 469.6,486.9 471.2,483.4 472.9,482.4 474.5,482.8 476.1,482.6 477.7,483.7 479.4,484.6 481.0,481.8 482.6,482.5 484.2,480.2 485.9,481.1 487.5,479.5 489.1,482.7 490.7,480.5 492.4,483.6 494.0,484.3 495.6,480.1 497.2,480.7 498.8,481.9 500.5,480.8 502.1,481.0 503.7,478.2 505.3,475.1 507.0,478.6 508.6,475.3 510.2,475.2 511.8,474.1 513.5,473.2 515.1,473.3 516.7,470.4 518.3,469.2 519.9,470.8 521.6,470.8 523.2,464.6 524.8,464.5 526.4,466.4 528.1,466.8 529.7,466.6 531.3,467.0 532.9,465.3 534.6,463.6 536.2,464.6 537.8,465.5" fill="none" stroke="rgba(240,70,70,0.35)" stroke-width="0.9"/>
<polygon points="136.9,430.7 138.5,430.9 140.1,431.1 141.7,431.2 143.4,431.3 145.0,431.1 146.6,430.7 148.2,430.2 149.9,429.6 151.5,429.0 153.1,428.4 154.7,427.8 156.3,427.6 158.0,427.6 159.6,428.6 161.2,431.6 162.8,435.2 164.5,439.8 166.1,445.7 167.7,453.0 169.3,462.5 171.0,473.6 172.6,484.9 174.2,495.9 175.8,506.4 177.4,517.0 179.1,527.0 180.7,535.6 182.3,542.7 183.9,549.2 185.6,555.0 187.2,560.1 188.8,564.8 190.4,568.7 192.1,572.0 193.7,574.7 195.3,577.1 196.9,579.4 198.6,581.3 200.2,582.6 201.8,582.2 203.4,583.3 205.0,585.4 206.7,584.1 208.3,585.4 209.9,584.0 211.5,583.9 213.2,583.3 214.8,582.5 216.4,579.5 218.0,577.7 219.7,576.2 221.3,573.5 222.9,571.8 224.5,570.7 226.1,568.4 227.8,568.8 229.4,567.3 231.0,567.1 232.6,562.4 234.3,562.8 235.9,558.4 237.5,557.9 239.1,556.5 240.8,554.0 242.4,551.0 244.0,550.3 245.6,547.8 247.2,545.1 248.9,543.2 250.5,543.0 252.1,540.5 253.7,538.5 255.4,537.9 257.0,537.9 258.6,535.4 260.2,533.6 261.9,534.0 263.5,531.7 265.1,531.9 266.7,528.7 268.3,530.0 270.0,528.8 271.6,525.7 273.2,525.0 274.8,524.7 276.5,526.5 278.1,525.4 279.7,525.6 281.3,524.7 283.0,524.0 284.6,524.0 286.2,521.9 287.8,521.1 289.5,520.9 291.1,519.9 292.7,516.1 294.3,510.8 295.9,505.3 297.6,502.6 299.2,505.6 300.8,505.1 302.4,503.1 304.1,503.3 305.7,501.6 307.3,505.0 308.9,507.5 310.6,510.0 312.2,508.2 313.8,504.8 315.4,502.4 317.0,503.3 318.7,502.8 320.3,501.2 321.9,502.2 323.5,502.6 325.2,500.6 326.8,502.1 328.4,499.7 330.0,498.1 331.7,499.6 333.3,498.3 334.9,498.9 336.5,500.2 338.1,497.8 339.8,500.2 341.4,499.5 343.0,499.7 344.6,501.2 346.3,498.7 347.9,500.1 349.5,500.7 351.1,499.6 352.8,496.8 354.4,496.4 356.0,492.1 357.6,489.3 359.2,491.1 360.9,487.2 362.5,486.8 364.1,488.0 365.7,490.0 367.4,491.9 369.0,492.2 370.6,490.1 372.2,491.4 373.9,489.0 375.5,486.3 377.1,484.4 378.7,485.0 380.3,481.3 382.0,482.4 383.6,482.4 385.2,476.3 386.8,478.5 388.5,477.4 390.1,473.8 391.7,476.2 393.3,481.0 395.0,482.9 396.6,484.1 398.2,482.6 399.8,480.3 401.5,479.7 403.1,476.5 404.7,478.4 406.3,478.4 407.9,474.5 409.6,476.0 411.2,475.2 412.8,472.3 414.4,473.5 416.1,473.0 417.7,471.7 419.3,470.5 420.9,471.8 422.6,470.7 424.2,469.5 425.8,471.5 427.4,468.3 429.0,468.3 430.7,468.6 432.3,468.2 433.9,466.1 435.5,466.8 437.2,466.7 438.8,464.2 440.4,466.0 442.0,466.3 443.7,467.6 445.3,465.0 446.9,462.8 448.5,464.2 450.1,461.4 451.8,462.4 453.4,462.3 455.0,463.3 456.6,464.1 458.3,462.3 459.9,462.4 461.5,461.5 463.1,457.9 464.8,457.6 466.4,455.6 468.0,453.0 469.6,454.3 471.2,454.7 472.9,456.9 474.5,456.6 476.1,459.2 477.7,458.2 479.4,458.0 481.0,456.2 482.6,453.5 484.2,454.0 485.9,453.7 487.5,454.9 489.1,455.3 490.7,457.7 492.4,462.1 494.0,459.5 495.6,454.8 497.2,453.4 498.8,452.4 500.5,451.4 502.1,448.5 503.7,446.5 505.3,442.3 507.0,443.3 508.6,442.7 510.2,443.7 511.8,443.4 513.5,446.0 515.1,447.3 516.7,447.3 518.3,444.7 519.9,442.0 521.6,439.8 523.2,438.1 524.8,440.8 526.4,440.4 528.1,439.5 529.7,442.1 531.3,442.9 532.9,442.8 534.6,440.6 536.2,441.1 537.8,443.4 537.8,480.7 536.2,475.8 534.6,468.4 532.9,467.4 531.3,470.6 529.7,477.3 528.1,478.3 526.4,473.0 524.8,469.0 523.2,467.9 521.6,466.0 519.9,471.1 518.3,473.4 516.7,474.5 515.1,471.3 513.5,470.9 511.8,470.8 510.2,467.6 508.6,467.3 507.0,470.3 505.3,471.5 503.7,470.7 502.1,471.8 500.5,473.9 498.8,477.1 497.2,481.6 495.6,484.1 494.0,483.2 492.4,485.7 490.7,484.3 489.1,483.6 487.5,479.6 485.9,476.1 484.2,478.7 482.6,481.3 481.0,480.2 479.4,480.2 477.7,483.8 476.1,485.7 474.5,484.8 472.9,481.3 471.2,479.0 469.6,480.0 468.0,476.7 466.4,479.9 464.8,480.0 463.1,485.1 461.5,485.8 459.9,489.3 458.3,489.3 456.6,485.6 455.0,486.5 453.4,488.5 451.8,489.2 450.1,488.8 448.5,485.4 446.9,491.1 445.3,498.9 443.7,508.2 442.0,501.8 440.4,493.1 438.8,489.6 437.2,489.2 435.5,493.8 433.9,493.7 432.3,493.7 430.7,496.5 429.0,495.2 427.4,495.7 425.8,495.7 424.2,494.9 422.6,496.4 420.9,497.0 419.3,497.4 417.7,497.2 416.1,496.1 414.4,497.6 412.8,499.7 411.2,498.7 409.6,500.2 407.9,501.3 406.3,499.1 404.7,499.8 403.1,502.5 401.5,502.9 399.8,504.0 398.2,504.8 396.6,508.0 395.0,508.5 393.3,505.0 391.7,500.1 390.1,498.8 388.5,499.2 386.8,499.5 385.2,503.4 383.6,503.0 382.0,505.3 380.3,508.3 378.7,505.6 377.1,508.4 375.5,510.9 373.9,510.6 372.2,512.8 370.6,515.7 369.0,517.5 367.4,514.9 365.7,511.5 364.1,510.7 362.5,509.7 360.9,512.1 359.2,510.7 357.6,515.3 356.0,517.2 354.4,516.5 352.8,518.7 351.1,522.0 349.5,523.8 347.9,524.3 346.3,524.1 344.6,522.2 343.0,522.7 341.4,521.8 339.8,522.2 338.1,521.2 336.5,521.1 334.9,522.3 333.3,519.6 331.7,520.3 330.0,522.8 328.4,520.8 326.8,521.4 325.2,522.6 323.5,521.5 321.9,524.0 320.3,524.4 318.7,527.1 317.0,525.8 315.4,523.8 313.8,524.4 312.2,527.6 310.6,529.7 308.9,526.3 307.3,523.3 305.7,523.0 304.1,522.9 302.4,526.1 300.8,526.8 299.2,526.3 297.6,526.8 295.9,529.3 294.3,532.6 292.7,534.9 291.1,538.0 289.5,542.0 287.8,541.4 286.2,541.1 284.6,542.4 283.0,543.9 281.3,543.0 279.7,545.8 278.1,544.7 276.5,545.2 274.8,546.3 273.2,546.8 271.6,547.4 270.0,548.7 268.3,549.1 266.7,550.3 265.1,551.0 263.5,549.6 261.9,551.2 260.2,554.7 258.6,553.2 257.0,556.3 255.4,559.0 253.7,560.9 252.1,561.3 250.5,562.0 248.9,564.4 247.2,567.3 245.6,566.3 244.0,570.6 242.4,573.5 240.8,572.9 239.1,574.2 237.5,576.4 235.9,580.3 234.3,580.8 232.6,585.8 231.0,586.0 229.4,588.7 227.8,589.8 226.1,590.6 224.5,590.5 222.9,591.4 221.3,592.6 219.7,596.3 218.0,599.0 216.4,603.6 214.8,603.7 213.2,607.3 211.5,607.7 209.9,608.4 208.3,607.3 206.7,607.4 205.0,605.1 203.4,608.3 201.8,606.0 200.2,604.5 198.6,603.2 196.9,601.3 195.3,599.0 193.7,596.6 192.1,593.9 190.4,590.6 188.8,586.7 187.2,582.0 185.6,576.9 183.9,571.1 182.3,564.6 180.7,557.5 179.1,548.9 177.4,538.9 175.8,528.3 174.2,517.8 172.6,506.8 171.0,495.5 169.3,484.4 167.7,473.8 166.1,464.1 164.5,455.9 162.8,448.9 161.2,443.0 159.6,438.7 158.0,437.7 156.3,437.7 154.7,437.7 153.1,438.2 151.5,438.8 149.9,439.3 148.2,439.8 146.6,440.2 145.0,440.6 143.4,440.6 141.7,440.5 140.1,440.2 138.5,440.0 136.9,439.7" fill="rgba(70,70,235,0.24)" stroke="none"/>
<polyline points="136.9,430.7 138.5,430.9 140.1,431.1 141.7,431.2 143.4,431.3 145.0,431.1 146.6,430.7 148.2,430.2 149.9,429.6 151.5,429.0 153.1,428.4 154.7,427.8 156.3,427.6 158.0,427.6 159.6,428.6 161.2,431.6 162.8,435.2 164.5,439.8 166.1,445.7 167.7,453.0 169.3,462.5 171.0,473.6 172.6,484.9 174.2,495.9 175.8,506.4 177.4,517.0 179.1,527.0 180.7,535.6 182.3,542.7 183.9,549.2 185.6,555.0 187.2,560.1 188.8,564.8 190.4,568.7 192.1,572.0 193.7,574.7 195.3,577.1 196.9,579.4 198.6,581.3 200.2,582.6 201.8,582.2 203.4,583.3 205.0,585.4 206.7,584.1 208.3,585.4 209.9,584.0 211.5,583.9 213.2,583.3 214.8,582.5 216.4,579.5 218.0,577.7 219.7,576.2 221.3,573.5 222.9,571.8 224.5,570.7 226.1,568.4 227.8,568.8 229.4,567.3 231.0,567.1 232.6,562.4 234.3,562.8 235.9,558.4 237.5,557.9 239.1,556.5 240.8,554.0 242.4,551.0 244.0,550.3 245.6,547.8 247.2,545.1 248.9,543.2 250.5,543.0 252.1,540.5 253.7,538.5 255.4,537.9 257.0,537.9 258.6,535.4 260.2,533.6 261.9,534.0 263.5,531.7 265.1,531.9 266.7,528.7 268.3,530.0 270.0,528.8 271.6,525.7 273.2,525.0 274.8,524.7 276.5,526.5 278.1,525.4 279.7,525.6 281.3,524.7 283.0,524.0 284.6,524.0 286.2,521.9 287.8,521.1 289.5,520.9 291.1,519.9 292.7,516.1 294.3,510.8 295.9,505.3 297.6,502.6 299.2,505.6 300.8,505.1 302.4,503.1 304.1,503.3 305.7,501.6 307.3,505.0 308.9,507.5 310.6,510.0 312.2,508.2 313.8,504.8 315.4,502.4 317.0,503.3 318.7,502.8 320.3,501.2 321.9,502.2 323.5,502.6 325.2,500.6 326.8,502.1 328.4,499.7 330.0,498.1 331.7,499.6 333.3,498.3 334.9,498.9 336.5,500.2 338.1,497.8 339.8,500.2 341.4,499.5 343.0,499.7 344.6,501.2 346.3,498.7 347.9,500.1 349.5,500.7 351.1,499.6 352.8,496.8 354.4,496.4 356.0,492.1 357.6,489.3 359.2,491.1 360.9,487.2 362.5,486.8 364.1,488.0 365.7,490.0 367.4,491.9 369.0,492.2 370.6,490.1 372.2,491.4 373.9,489.0 375.5,486.3 377.1,484.4 378.7,485.0 380.3,481.3 382.0,482.4 383.6,482.4 385.2,476.3 386.8,478.5 388.5,477.4 390.1,473.8 391.7,476.2 393.3,481.0 395.0,482.9 396.6,484.1 398.2,482.6 399.8,480.3 401.5,479.7 403.1,476.5 404.7,478.4 406.3,478.4 407.9,474.5 409.6,476.0 411.2,475.2 412.8,472.3 414.4,473.5 416.1,473.0 417.7,471.7 419.3,470.5 420.9,471.8 422.6,470.7 424.2,469.5 425.8,471.5 427.4,468.3 429.0,468.3 430.7,468.6 432.3,468.2 433.9,466.1 435.5,466.8 437.2,466.7 438.8,464.2 440.4,466.0 442.0,466.3 443.7,467.6 445.3,465.0 446.9,462.8 448.5,464.2 450.1,461.4 451.8,462.4 453.4,462.3 455.0,463.3 456.6,464.1 458.3,462.3 459.9,462.4 461.5,461.5 463.1,457.9 464.8,457.6 466.4,455.6 468.0,453.0 469.6,454.3 471.2,454.7 472.9,456.9 474.5,456.6 476.1,459.2 477.7,458.2 479.4,458.0 481.0,456.2 482.6,453.5 484.2,454.0 485.9,453.7 487.5,454.9 489.1,455.3 490.7,457.7 492.4,462.1 494.0,459.5 495.6,454.8 497.2,453.4 498.8,452.4 500.5,451.4 502.1,448.5 503.7,446.5 505.3,442.3 507.0,443.3 508.6,442.7 510.2,443.7 511.8,443.4 513.5,446.0 515.1,447.3 516.7,447.3 518.3,444.7 519.9,442.0 521.6,439.8 523.2,438.1 524.8,440.8 526.4,440.4 528.1,439.5 529.7,442.1 531.3,442.9 532.9,442.8 534.6,440.6 536.2,441.1 537.8,443.4" fill="none" stroke="rgba(70,70,235,0.35)" stroke-width="0.9"/>
<polyline points="136.9,439.7 138.5,440.0 140.1,440.2 141.7,440.5 143.4,440.6 145.0,440.6 146.6,440.2 148.2,439.8 149.9,439.3 151.5,438.8 153.1,438.2 154.7,437.7 156.3,437.7 158.0,437.7 159.6,438.7 161.2,443.0 162.8,448.9 164.5,455.9 166.1,464.1 167.7,473.8 169.3,484.4 171.0,495.5 172.6,506.8 174.2,517.8 175.8,528.3 177.4,538.9 179.1,548.9 180.7,557.5 182.3,564.6 183.9,571.1 185.6,576.9 187.2,582.0 188.8,586.7 190.4,590.6 192.1,593.9 193.7,596.6 195.3,599.0 196.9,601.3 198.6,603.2 200.2,604.5 201.8,606.0 203.4,608.3 205.0,605.1 206.7,607.4 208.3,607.3 209.9,608.4 211.5,607.7 213.2,607.3 214.8,603.7 216.4,603.6 218.0,599.0 219.7,596.3 221.3,592.6 222.9,591.4 224.5,590.5 226.1,590.6 227.8,589.8 229.4,588.7 231.0,586.0 232.6,585.8 234.3,580.8 235.9,580.3 237.5,576.4 239.1,574.2 240.8,572.9 242.4,573.5 244.0,570.6 245.6,566.3 247.2,567.3 248.9,564.4 250.5,562.0 252.1,561.3 253.7,560.9 255.4,559.0 257.0,556.3 258.6,553.2 260.2,554.7 261.9,551.2 263.5,549.6 265.1,551.0 266.7,550.3 268.3,549.1 270.0,548.7 271.6,547.4 273.2,546.8 274.8,546.3 276.5,545.2 278.1,544.7 279.7,545.8 281.3,543.0 283.0,543.9 284.6,542.4 286.2,541.1 287.8,541.4 289.5,542.0 291.1,538.0 292.7,534.9 294.3,532.6 295.9,529.3 297.6,526.8 299.2,526.3 300.8,526.8 302.4,526.1 304.1,522.9 305.7,523.0 307.3,523.3 308.9,526.3 310.6,529.7 312.2,527.6 313.8,524.4 315.4,523.8 317.0,525.8 318.7,527.1 320.3,524.4 321.9,524.0 323.5,521.5 325.2,522.6 326.8,521.4 328.4,520.8 330.0,522.8 331.7,520.3 333.3,519.6 334.9,522.3 336.5,521.1 338.1,521.2 339.8,522.2 341.4,521.8 343.0,522.7 344.6,522.2 346.3,524.1 347.9,524.3 349.5,523.8 351.1,522.0 352.8,518.7 354.4,516.5 356.0,517.2 357.6,515.3 359.2,510.7 360.9,512.1 362.5,509.7 364.1,510.7 365.7,511.5 367.4,514.9 369.0,517.5 370.6,515.7 372.2,512.8 373.9,510.6 375.5,510.9 377.1,508.4 378.7,505.6 380.3,508.3 382.0,505.3 383.6,503.0 385.2,503.4 386.8,499.5 388.5,499.2 390.1,498.8 391.7,500.1 393.3,505.0 395.0,508.5 396.6,508.0 398.2,504.8 399.8,504.0 401.5,502.9 403.1,502.5 404.7,499.8 406.3,499.1 407.9,501.3 409.6,500.2 411.2,498.7 412.8,499.7 414.4,497.6 416.1,496.1 417.7,497.2 419.3,497.4 420.9,497.0 422.6,496.4 424.2,494.9 425.8,495.7 427.4,495.7 429.0,495.2 430.7,496.5 432.3,493.7 433.9,493.7 435.5,493.8 437.2,489.2 438.8,489.6 440.4,493.1 442.0,501.8 443.7,508.2 445.3,498.9 446.9,491.1 448.5,485.4 450.1,488.8 451.8,489.2 453.4,488.5 455.0,486.5 456.6,485.6 458.3,489.3 459.9,489.3 461.5,485.8 463.1,485.1 464.8,480.0 466.4,479.9 468.0,476.7 469.6,480.0 471.2,479.0 472.9,481.3 474.5,484.8 476.1,485.7 477.7,483.8 479.4,480.2 481.0,480.2 482.6,481.3 484.2,478.7 485.9,476.1 487.5,479.6 489.1,483.6 490.7,484.3 492.4,485.7 494.0,483.2 495.6,484.1 497.2,481.6 498.8,477.1 500.5,473.9 502.1,471.8 503.7,470.7 505.3,471.5 507.0,470.3 508.6,467.3 510.2,467.6 511.8,470.8 513.5,470.9 515.1,471.3 516.7,474.5 518.3,473.4 519.9,471.1 521.6,466.0 523.2,467.9 524.8,469.0 526.4,473.0 528.1,478.3 529.7,477.3 531.3,470.6 532.9,467.4 534.6,468.4 536.2,475.8 537.8,480.7" fill="none" stroke="rgba(70,70,235,0.35)" stroke-width="0.9"/>
<polyline points="136.9,439.9 138.5,440.1 140.1,440.2 141.7,440.3 143.4,440.3 145.0,440.2 146.6,440.1 148.2,439.8 149.9,439.5 151.5,439.1 153.1,438.5 154.7,437.4 156.3,436.7 158.0,436.4 159.6,437.0 161.2,439.8 162.8,443.8 164.5,448.9 166.1,455.3 167.7,463.0 169.3,471.9 171.0,481.5 172.6,491.8 174.2,503.4 175.8,516.3 177.4,528.5 179.1,538.5 180.7,547.1 182.3,554.8 183.9,561.6 185.6,567.7 187.2,573.1 188.8,577.9 190.4,582.3 192.1,586.5 193.7,590.5 195.3,594.0 196.9,597.0 198.6,599.5 200.2,601.0 201.8,600.8 203.4,603.1 205.0,602.6 206.7,602.8 208.3,603.6 209.9,605.4 211.5,604.8 213.2,604.8 214.8,604.0 216.4,600.3 218.0,598.5 219.7,593.9 221.3,590.6 222.9,586.7 224.5,583.4 226.1,580.3 227.8,577.9 229.4,573.0 231.0,572.2 232.6,570.2 234.3,567.8 235.9,565.8 237.5,564.6 239.1,562.6 240.8,561.4 242.4,558.3 244.0,556.8 245.6,554.9 247.2,553.2 248.9,551.9 250.5,551.0 252.1,548.3 253.7,546.6 255.4,545.0 257.0,542.9 258.6,541.0 260.2,540.3 261.9,538.5 263.5,536.2 265.1,535.1 266.7,535.0 268.3,533.1 270.0,533.2 271.6,530.7 273.2,530.7 274.8,529.1 276.5,528.3 278.1,527.1 279.7,525.0 281.3,523.9 283.0,522.6 284.6,520.0 286.2,518.8 287.8,518.6 289.5,519.0 291.1,520.3 292.7,519.9 294.3,519.8 295.9,518.2 297.6,518.3 299.2,516.6 300.8,517.0 302.4,516.0 304.1,515.5 305.7,514.5 307.3,511.5 308.9,511.3 310.6,509.9 312.2,507.7 313.8,507.2 315.4,504.8 317.0,503.6 318.7,502.8 320.3,501.0 321.9,500.1 323.5,499.5 325.2,498.7 326.8,497.3 328.4,496.8 330.0,495.4 331.7,494.3 333.3,493.1 334.9,494.2 336.5,492.6 338.1,493.6 339.8,493.2 341.4,493.2 343.0,493.8 344.6,494.7 346.3,495.2 347.9,495.5 349.5,493.9 351.1,492.4 352.8,488.6 354.4,485.9 356.0,481.2 357.6,477.4 359.2,475.3 360.9,477.8 362.5,480.3 364.1,481.5 365.7,484.8 367.4,483.7 369.0,483.8 370.6,483.0 372.2,478.7 373.9,475.7 375.5,476.7 377.1,478.2 378.7,481.1 380.3,482.2 382.0,480.1 383.6,476.2 385.2,475.5 386.8,473.0 388.5,471.0 390.1,468.3 391.7,467.2 393.3,470.3 395.0,472.6 396.6,473.0 398.2,469.9 399.8,469.3 401.5,471.2 403.1,471.4 404.7,471.3 406.3,471.5 407.9,468.9 409.6,468.3 411.2,467.8 412.8,466.6 414.4,465.8 416.1,463.7 417.7,464.7 419.3,463.6 420.9,463.3 422.6,461.8 424.2,459.3 425.8,458.9 427.4,460.1 429.0,462.5 430.7,464.2 432.3,465.4 433.9,463.8 435.5,461.0 437.2,458.2 438.8,456.4 440.4,454.5 442.0,455.3 443.7,456.6 445.3,453.3 446.9,451.4 448.5,448.5 450.1,449.1 451.8,450.0 453.4,452.1 455.0,452.2 456.6,453.1 458.3,454.3 459.9,455.8 461.5,453.5 463.1,452.7 464.8,449.7 466.4,449.2 468.0,447.4 469.6,447.0 471.2,446.0 472.9,444.1 474.5,444.5 476.1,445.2 477.7,446.0 479.4,445.0 481.0,445.1 482.6,443.8 484.2,441.5 485.9,439.6 487.5,437.9 489.1,438.1 490.7,438.1 492.4,438.6 494.0,436.1 495.6,435.6 497.2,436.4 498.8,435.9 500.5,436.9 502.1,436.0 503.7,436.7 505.3,437.6 507.0,437.0 508.6,436.9 510.2,436.8 511.8,438.3 513.5,438.1 515.1,436.8 516.7,436.6 518.3,436.9 519.9,436.6 521.6,436.2 523.2,434.2 524.8,434.5 526.4,433.3 528.1,433.6 529.7,433.8 531.3,434.2 532.9,432.1 534.6,431.2 536.2,431.2 537.8,430.0" fill="none" stroke="#525252" stroke-width="1.1" stroke-linejoin="round"/>
<polyline points="136.9,446.1 138.5,446.8 140.1,447.4 141.7,448.1 143.4,448.7 145.0,449.4 146.6,450.3 148.2,451.3 149.9,452.0 151.5,452.4 153.1,451.8 154.7,449.2 156.3,447.2 158.0,447.3 159.6,448.7 161.2,450.9 162.8,453.6 164.5,460.0 166.1,471.2 167.7,484.7 169.3,498.8 171.0,511.9 172.6,523.4 174.2,533.8 175.8,543.5 177.4,553.0 179.1,562.0 180.7,570.2 182.3,577.7 183.9,584.6 185.6,591.1 187.2,597.3 188.8,603.1 190.4,608.5 192.1,613.3 193.7,617.6 195.3,621.4 196.9,624.4 198.6,626.7 200.2,628.4 201.8,628.7 203.4,630.2 205.0,631.1 206.7,631.8 208.3,631.5 209.9,631.2 211.5,630.4 213.2,629.9 214.8,628.3 216.4,626.8 218.0,625.7 219.7,623.8 221.3,622.7 222.9,619.8 224.5,619.4 226.1,617.0 227.8,615.3 229.4,612.5 231.0,611.1 232.6,609.1 234.3,606.6 235.9,604.7 237.5,602.4 239.1,599.3 240.8,597.4 242.4,596.8 244.0,599.8 245.6,599.2 247.2,594.7 248.9,592.1 250.5,589.1 252.1,587.3 253.7,584.6 255.4,583.6 257.0,581.9 258.6,578.4 260.2,576.9 261.9,574.8 263.5,573.8 265.1,570.9 266.7,569.2 268.3,567.4 270.0,566.0 271.6,566.0 273.2,563.5 274.8,563.0 276.5,560.9 278.1,559.7 279.7,558.0 281.3,556.5 283.0,554.1 284.6,553.5 286.2,553.1 287.8,551.3 289.5,551.5 291.1,549.7 292.7,549.5 294.3,547.7 295.9,546.9 297.6,547.0 299.2,545.2 300.8,545.6 302.4,544.3 304.1,541.0 305.7,539.3 307.3,535.4 308.9,537.3 310.6,540.5 312.2,541.2 313.8,538.4 315.4,534.6 317.0,530.1 318.7,528.1 320.3,523.9 321.9,523.1 323.5,520.6 325.2,519.3 326.8,517.8 328.4,518.2 330.0,519.2 331.7,519.4 333.3,520.0 334.9,519.6 336.5,518.1 338.1,516.8 339.8,517.1 341.4,514.8 343.0,511.4 344.6,509.4 346.3,506.5 347.9,509.1 349.5,510.6 351.1,511.0 352.8,509.0 354.4,508.1 356.0,505.4 357.6,504.6 359.2,503.9 360.9,503.9 362.5,502.4 364.1,501.4 365.7,500.0 367.4,500.6 369.0,499.8 370.6,498.1 372.2,500.1 373.9,500.1 375.5,500.4 377.1,500.4 378.7,501.6 380.3,502.1 382.0,500.6 383.6,500.5 385.2,498.6 386.8,496.6 388.5,495.2 390.1,496.6 391.7,497.3 393.3,498.1 395.0,497.5 396.6,495.6 398.2,494.6 399.8,492.2 401.5,489.5 403.1,487.7 404.7,487.1 406.3,486.3 407.9,484.3 409.6,483.1 411.2,482.2 412.8,482.3 414.4,481.5 416.1,479.2 417.7,479.7 419.3,477.4 420.9,478.2 422.6,477.2 424.2,475.5 425.8,474.2 427.4,474.6 429.0,474.9 430.7,475.1 432.3,475.3 433.9,475.3 435.5,473.1 437.2,472.4 438.8,471.1 440.4,468.9 442.0,468.9 443.7,468.6 445.3,468.8 446.9,466.9 448.5,467.0 450.1,466.8 451.8,466.5 453.4,466.6 455.0,465.5 456.6,467.5 458.3,466.5 459.9,467.9 461.5,468.9 463.1,469.3 464.8,469.5 466.4,469.3 468.0,470.5 469.6,470.8 471.2,469.8 472.9,469.8 474.5,468.7 476.1,468.6 477.7,467.9 479.4,467.8 481.0,466.8 482.6,466.4 484.2,465.3 485.9,465.5 487.5,465.4 489.1,466.1 490.7,467.1 492.4,468.0 494.0,467.7 495.6,466.7 497.2,467.2 498.8,466.4 500.5,464.5 502.1,464.8 503.7,463.9 505.3,462.3 507.0,462.5 508.6,461.3 510.2,459.9 511.8,460.2 513.5,458.7 515.1,458.4 516.7,456.3 518.3,456.3 519.9,455.5 521.6,454.5 523.2,451.8 524.8,450.5 526.4,450.7 528.1,451.5 529.7,450.7 531.3,451.3 532.9,450.0 534.6,450.6 536.2,450.6 537.8,450.1" fill="none" stroke="#da5060" stroke-width="1.1" stroke-linejoin="round"/>
<polyline points="136.9,435.2 138.5,435.4 140.1,435.6 141.7,435.9 143.4,435.9 145.0,435.8 146.6,435.5 148.2,435.0 149.9,434.5 151.5,433.9 153.1,433.3 154.7,432.8 156.3,432.6 158.0,432.6 159.6,433.6 161.2,437.3 162.8,442.1 164.5,447.9 166.1,454.9 167.7,463.4 169.3,473.5 171.0,484.5 172.6,495.9 174.2,506.9 175.8,517.4 177.4,528.0 179.1,538.0 180.7,546.5 182.3,553.7 183.9,560.1 185.6,565.9 187.2,571.1 188.8,575.7 190.4,579.7 192.1,582.9 193.7,585.6 195.3,588.1 196.9,590.3 198.6,592.2 200.2,593.5 201.8,594.1 203.4,595.8 205.0,595.2 206.7,595.8 208.3,596.4 209.9,596.2 211.5,595.8 213.2,595.3 214.8,593.1 216.4,591.6 218.0,588.4 219.7,586.2 221.3,583.0 222.9,581.6 224.5,580.6 226.1,579.5 227.8,579.3 229.4,578.0 231.0,576.5 232.6,574.1 234.3,571.8 235.9,569.4 237.5,567.1 239.1,565.4 240.8,563.5 242.4,562.2 244.0,560.4 245.6,557.1 247.2,556.2 248.9,553.8 250.5,552.5 252.1,550.9 253.7,549.7 255.4,548.5 257.0,547.1 258.6,544.3 260.2,544.1 261.9,542.6 263.5,540.6 265.1,541.5 266.7,539.5 268.3,539.5 270.0,538.8 271.6,536.5 273.2,535.9 274.8,535.5 276.5,535.8 278.1,535.1 279.7,535.7 281.3,533.8 283.0,534.0 284.6,533.2 286.2,531.5 287.8,531.2 289.5,531.4 291.1,528.9 292.7,525.5 294.3,521.7 295.9,517.3 297.6,514.7 299.2,516.0 300.8,516.0 302.4,514.6 304.1,513.1 305.7,512.3 307.3,514.1 308.9,516.9 310.6,519.8 312.2,517.9 313.8,514.6 315.4,513.1 317.0,514.6 318.7,514.9 320.3,512.8 321.9,513.1 323.5,512.1 325.2,511.6 326.8,511.7 328.4,510.3 330.0,510.5 331.7,510.0 333.3,508.9 334.9,510.6 336.5,510.7 338.1,509.5 339.8,511.2 341.4,510.6 343.0,511.2 344.6,511.7 346.3,511.4 347.9,512.2 349.5,512.3 351.1,510.8 352.8,507.7 354.4,506.5 356.0,504.7 357.6,502.3 359.2,500.9 360.9,499.7 362.5,498.2 364.1,499.3 365.7,500.7 367.4,503.4 369.0,504.8 370.6,502.9 372.2,502.1 373.9,499.8 375.5,498.6 377.1,496.4 378.7,495.3 380.3,494.8 382.0,493.8 383.6,492.7 385.2,489.8 386.8,489.0 388.5,488.3 390.1,486.3 391.7,488.2 393.3,493.0 395.0,495.7 396.6,496.0 398.2,493.7 399.8,492.1 401.5,491.3 403.1,489.5 404.7,489.1 406.3,488.8 407.9,487.9 409.6,488.1 411.2,487.0 412.8,486.0 414.4,485.5 416.1,484.6 417.7,484.4 419.3,483.9 420.9,484.4 422.6,483.6 424.2,482.2 425.8,483.6 427.4,482.0 429.0,481.8 430.7,482.6 432.3,480.9 433.9,479.9 435.5,480.3 437.2,478.0 438.8,476.9 440.4,479.6 442.0,484.0 443.7,487.9 445.3,481.9 446.9,476.9 448.5,474.8 450.1,475.1 451.8,475.8 453.4,475.4 455.0,474.9 456.6,474.8 458.3,475.8 459.9,475.8 461.5,473.7 463.1,471.5 464.8,468.8 466.4,467.7 468.0,464.8 469.6,467.1 471.2,466.8 472.9,469.1 474.5,470.7 476.1,472.4 477.7,471.0 479.4,469.1 481.0,468.2 482.6,467.4 484.2,466.3 485.9,464.9 487.5,467.3 489.1,469.5 490.7,471.0 492.4,473.9 494.0,471.4 495.6,469.4 497.2,467.5 498.8,464.8 500.5,462.6 502.1,460.1 503.7,458.6 505.3,456.9 507.0,456.8 508.6,455.0 510.2,455.6 511.8,457.1 513.5,458.4 515.1,459.3 516.7,460.9 518.3,459.1 519.9,456.6 521.6,452.9 523.2,453.0 524.8,454.9 526.4,456.7 528.1,458.9 529.7,459.7 531.3,456.8 532.9,455.1 534.6,454.5 536.2,458.5 537.8,462.1" fill="none" stroke="#4242c8" stroke-width="1.3" stroke-linejoin="round"/>
<polyline points="132,369.5 132,661.5 537.8,661.5 537.8,658.5" fill="none" stroke="#7a7a7a" stroke-width="1.3"/>
<line x1="132" y1="406.0" x2="135.6" y2="406.0" stroke="#7a7a7a" stroke-width="1.1"/>
<text x="127" y="411.8" font-family="'Liberation Serif', serif" font-size="16.5" font-weight="bold" font-style="normal" text-anchor="end" fill="#111" >0.1</text>
<line x1="132" y1="442.5" x2="135.6" y2="442.5" stroke="#7a7a7a" stroke-width="1.1"/>
<text x="127" y="448.3" font-family="'Liberation Serif', serif" font-size="16.5" font-weight="bold" font-style="normal" text-anchor="end" fill="#111" >0</text>
<line x1="132" y1="479.0" x2="135.6" y2="479.0" stroke="#7a7a7a" stroke-width="1.1"/>
<text x="127" y="484.8" font-family="'Liberation Serif', serif" font-size="16.5" font-weight="bold" font-style="normal" text-anchor="end" fill="#111" >-0.1</text>
<line x1="132" y1="515.5" x2="135.6" y2="515.5" stroke="#7a7a7a" stroke-width="1.1"/>
<text x="127" y="521.3" font-family="'Liberation Serif', serif" font-size="16.5" font-weight="bold" font-style="normal" text-anchor="end" fill="#111" >-0.2</text>
<line x1="132" y1="552.0" x2="135.6" y2="552.0" stroke="#7a7a7a" stroke-width="1.1"/>
<text x="127" y="557.8" font-family="'Liberation Serif', serif" font-size="16.5" font-weight="bold" font-style="normal" text-anchor="end" fill="#111" >-0.3</text>
<line x1="132" y1="588.5" x2="135.6" y2="588.5" stroke="#7a7a7a" stroke-width="1.1"/>
<text x="127" y="594.3" font-family="'Liberation Serif', serif" font-size="16.5" font-weight="bold" font-style="normal" text-anchor="end" fill="#111" >-0.4</text>
<line x1="132" y1="625.0" x2="135.6" y2="625.0" stroke="#7a7a7a" stroke-width="1.1"/>
<text x="127" y="630.8" font-family="'Liberation Serif', serif" font-size="16.5" font-weight="bold" font-style="normal" text-anchor="end" fill="#111" >-0.5</text>
<line x1="132" y1="661.5" x2="135.6" y2="661.5" stroke="#7a7a7a" stroke-width="1.1"/>
<text x="127" y="667.3" font-family="'Liberation Serif', serif" font-size="16.5" font-weight="bold" font-style="normal" text-anchor="end" fill="#111" >-0.6</text>
<text x="132.0" y="681.7" font-family="'Liberation Serif', serif" font-size="16.5" font-weight="bold" font-style="normal" text-anchor="middle" fill="#111" >0</text>
<line x1="213.2" y1="661.5" x2="213.2" y2="657.9" stroke="#7a7a7a" stroke-width="1.1"/>
<text x="213.2" y="681.7" font-family="'Liberation Serif', serif" font-size="16.5" font-weight="bold" font-style="normal" text-anchor="middle" fill="#111" >1</text>
<line x1="294.3" y1="661.5" x2="294.3" y2="657.9" stroke="#7a7a7a" stroke-width="1.1"/>
<text x="294.3" y="681.7" font-family="'Liberation Serif', serif" font-size="16.5" font-weight="bold" font-style="normal" text-anchor="middle" fill="#111" >2</text>
<line x1="375.5" y1="661.5" x2="375.5" y2="657.9" stroke="#7a7a7a" stroke-width="1.1"/>
<text x="375.5" y="681.7" font-family="'Liberation Serif', serif" font-size="16.5" font-weight="bold" font-style="normal" text-anchor="middle" fill="#111" >3</text>
<line x1="456.6" y1="661.5" x2="456.6" y2="657.9" stroke="#7a7a7a" stroke-width="1.1"/>
<text x="456.6" y="681.7" font-family="'Liberation Serif', serif" font-size="16.5" font-weight="bold" font-style="normal" text-anchor="middle" fill="#111" >4</text>
<text x="537.8" y="681.7" font-family="'Liberation Serif', serif" font-size="16.5" font-weight="bold" font-style="normal" text-anchor="middle" fill="#111" >5</text>
<text x="0" y="0" transform="translate(78.5,534.3) rotate(-90)" font-family="'Liberation Serif', serif" font-size="20.6" font-weight="bold" text-anchor="middle" fill="#111">Pupil size change (mm)</text>
<text x="335.4" y="705.0" font-family="'Liberation Serif', serif" font-size="20.6" font-weight="bold" font-style="normal" text-anchor="middle" fill="#111" >Time (second)</text>
<rect x="429.1" y="346.9" width="97.79999999999995" height="60.30000000000001" fill="#fff" stroke="#555" stroke-width="1.1"/>
<rect x="439" y="356" width="11" height="10.5" fill="#05051a"/>
<rect x="439" y="372.3" width="11" height="10.5" fill="#0a0af0"/>
<rect x="439" y="389" width="11" height="10.5" fill="#f01010"/>
<text x="454.2" y="364.4" font-family="'Liberation Serif', serif" font-size="14.8" font-weight="normal" font-style="normal" text-anchor="start" fill="#111" >Neutral</text>
<text x="454.2" y="382.1" font-family="'Liberation Serif', serif" font-size="14.8" font-weight="normal" font-style="normal" text-anchor="start" fill="#111" >Unpleasant</text>
<text x="454.2" y="399.8" font-family="'Liberation Serif', serif" font-size="14.8" font-weight="normal" font-style="normal" text-anchor="start" fill="#111" >Pleasant</text>
<text x="327.2" y="595.5" font-family="'Liberation Serif', serif" font-size="14.3" font-weight="bold" fill="#111" xml:space="preserve" textLength="179.5" lengthAdjust="spacingAndGlyphs">Emotion: <tspan font-style="italic">F</tspan> = 5.72, <tspan font-style="italic">P</tspan> = 0.004</text>
<text x="327.2" y="613.5" font-family="'Liberation Serif', serif" font-size="14.3" font-weight="bold" fill="#111" xml:space="preserve" textLength="171" lengthAdjust="spacingAndGlyphs">Time: <tspan font-style="italic">F</tspan> = 111.57, <tspan font-style="italic">P</tspan> &lt; 0.001</text>
<text x="327.2" y="631.5" font-family="'Liberation Serif', serif" font-size="14.3" font-weight="bold" fill="#111" xml:space="preserve" textLength="230.5" lengthAdjust="spacingAndGlyphs">Emotion x Time:  <tspan font-style="italic">F</tspan> = 6.95, <tspan font-style="italic">P</tspan> = 0.001</text>
<text x="51" y="749.5" font-family="'Liberation Serif', serif" font-size="23" font-weight="normal" font-style="italic" text-anchor="start" fill="#222" >(D)</text>
<text x="304.7" y="753.6" font-family="'Liberation Serif', serif" font-size="21.6" font-weight="bold" font-style="normal" text-anchor="start" fill="#111" >Adult</text>
<line x1="289.9" y1="764.8" x2="289.9" y2="1065.5" stroke="#a4a4a4" stroke-width="1.3" stroke-dasharray="1.4 1.5"/>
<polygon points="129.7,792.5 131.3,792.6 133.0,792.7 134.6,792.8 136.3,793.0 137.9,793.3 139.6,793.6 141.2,794.0 142.8,794.5 144.5,795.2 146.1,796.1 147.8,797.4 149.4,799.8 151.1,805.3 152.7,819.7 154.3,833.2 156.0,843.6 157.6,854.8 159.3,866.1 160.9,877.5 162.6,889.2 164.2,901.3 165.8,913.1 167.5,923.8 169.1,932.7 170.8,940.2 172.4,946.6 174.1,952.5 175.7,956.1 177.3,956.8 179.0,958.9 180.6,961.1 182.3,963.2 183.9,965.0 185.6,966.1 187.2,967.3 188.8,971.9 190.5,975.0 192.1,975.5 193.8,975.9 195.4,976.2 197.1,977.1 198.7,971.8 200.3,967.8 202.0,970.3 203.6,968.6 205.3,973.7 206.9,971.5 208.6,972.7 210.2,969.9 211.8,963.9 213.5,963.7 215.1,966.0 216.8,966.9 218.4,968.2 220.1,969.5 221.7,962.6 223.3,959.5 225.0,955.3 226.6,949.6 228.3,947.4 229.9,943.7 231.6,940.5 233.2,939.5 234.8,938.2 236.5,934.0 238.1,930.9 239.8,927.3 241.4,926.9 243.1,925.8 244.7,922.8 246.3,922.1 248.0,919.8 249.6,918.5 251.3,913.6 252.9,913.1 254.6,912.5 256.2,907.1 257.8,906.1 259.5,904.6 261.1,907.2 262.8,906.7 264.4,905.9 266.1,904.5 267.7,904.6 269.3,908.0 271.0,905.8 272.6,906.2 274.3,903.1 275.9,903.3 277.6,898.6 279.2,899.1 280.8,901.4 282.5,904.3 284.1,901.5 285.8,905.2 287.4,904.9 289.1,905.3 290.7,905.7 292.3,904.2 294.0,903.6 295.6,903.8 297.3,905.0 298.9,903.2 300.6,904.0 302.2,902.1 303.8,902.8 305.5,902.7 307.1,903.5 308.8,899.7 310.4,899.6 312.1,897.4 313.7,894.9 315.3,892.5 317.0,891.7 318.6,891.2 320.3,891.9 321.9,892.4 323.6,893.5 325.2,895.4 326.8,893.9 328.5,892.1 330.1,892.3 331.8,891.7 333.4,892.2 335.1,890.2 336.7,888.6 338.3,890.2 340.0,891.3 341.6,888.2 343.3,887.5 344.9,888.6 346.6,889.6 348.2,890.1 349.8,888.4 351.5,889.2 353.1,886.4 354.8,889.9 356.4,888.2 358.1,888.7 359.7,888.8 361.3,889.2 363.0,889.1 364.6,888.1 366.3,889.5 367.9,887.8 369.6,886.4 371.2,884.9 372.8,884.1 374.5,885.6 376.1,886.4 377.8,883.1 379.4,884.4 381.1,882.1 382.7,881.4 384.3,881.4 386.0,879.6 387.6,880.7 389.3,881.6 390.9,880.5 392.6,880.1 394.2,879.0 395.8,878.2 397.5,879.5 399.1,879.6 400.8,878.1 402.4,878.7 404.1,875.1 405.7,875.4 407.3,875.6 409.0,872.8 410.6,875.4 412.3,872.9 413.9,872.8 415.6,874.9 417.2,876.4 418.8,879.1 420.5,880.0 422.1,881.7 423.8,881.1 425.4,879.5 427.1,878.5 428.7,880.1 430.3,877.6 432.0,874.8 433.6,873.2 435.3,873.4 436.9,870.7 438.6,871.2 440.2,868.6 441.8,870.0 443.5,870.3 445.1,869.1 446.8,868.5 448.4,868.8 450.1,868.1 451.7,868.7 453.3,870.4 455.0,868.8 456.6,870.3 458.3,872.0 459.9,870.3 461.6,870.8 463.2,872.1 464.8,868.6 466.5,869.3 468.1,870.5 469.8,867.9 471.4,868.8 473.1,869.9 474.7,870.6 476.3,871.6 478.0,872.4 479.6,873.3 481.3,873.9 482.9,874.3 484.6,870.9 486.2,869.4 487.8,868.1 489.5,868.1 491.1,865.4 492.8,867.0 494.4,865.0 496.1,864.0 497.7,868.7 499.3,868.6 501.0,869.2 502.6,869.8 504.3,872.6 505.9,873.8 507.6,873.8 509.2,867.8 510.8,867.0 512.5,862.0 514.1,859.3 515.8,860.2 517.4,858.3 519.1,856.7 520.7,858.0 522.3,855.3 524.0,852.9 525.6,856.7 527.3,853.2 528.9,855.0 530.6,856.0 532.2,856.8 533.8,858.4 535.5,859.3 535.5,877.4 533.8,879.6 532.2,877.5 530.6,876.2 528.9,874.0 527.3,873.0 525.6,874.1 524.0,875.5 522.3,877.4 520.7,876.2 519.1,877.2 517.4,878.7 515.8,877.9 514.1,877.5 512.5,882.1 510.8,887.1 509.2,890.7 507.6,895.0 505.9,890.9 504.3,892.1 502.6,891.6 501.0,891.3 499.3,887.2 497.7,887.2 496.1,886.3 494.4,883.4 492.8,886.0 491.1,887.8 489.5,889.6 487.8,890.3 486.2,891.5 484.6,891.8 482.9,892.5 481.3,894.1 479.6,892.6 478.0,892.6 476.3,890.2 474.7,888.4 473.1,887.6 471.4,888.0 469.8,889.0 468.1,888.7 466.5,891.0 464.8,891.2 463.2,890.3 461.6,890.7 459.9,892.3 458.3,889.8 456.6,888.9 455.0,891.6 453.3,890.7 451.7,889.9 450.1,888.5 448.4,888.2 446.8,891.4 445.1,889.7 443.5,890.6 441.8,890.5 440.2,891.4 438.6,889.5 436.9,892.9 435.3,892.3 433.6,895.3 432.0,895.7 430.3,896.4 428.7,898.5 427.1,901.2 425.4,902.2 423.8,903.2 422.1,901.8 420.5,897.9 418.8,898.1 417.2,898.2 415.6,896.8 413.9,892.8 412.3,893.3 410.6,893.0 409.0,895.0 407.3,894.5 405.7,895.7 404.1,898.1 402.4,897.0 400.8,899.0 399.1,901.0 397.5,900.5 395.8,900.9 394.2,901.4 392.6,899.4 390.9,901.3 389.3,899.4 387.6,903.3 386.0,902.1 384.3,900.8 382.7,902.2 381.1,903.4 379.4,903.1 377.8,904.4 376.1,903.5 374.5,905.5 372.8,905.2 371.2,906.8 369.6,907.4 367.9,908.8 366.3,907.6 364.6,910.6 363.0,909.3 361.3,906.8 359.7,908.3 358.1,910.7 356.4,911.4 354.8,908.2 353.1,910.4 351.5,909.1 349.8,910.4 348.2,909.5 346.6,910.6 344.9,908.6 343.3,910.3 341.6,911.9 340.0,910.6 338.3,912.4 336.7,912.8 335.1,914.1 333.4,912.1 331.8,912.6 330.1,914.0 328.5,917.0 326.8,914.2 325.2,916.4 323.6,914.3 321.9,915.7 320.3,915.9 318.6,913.7 317.0,911.2 315.3,912.5 313.7,917.4 312.1,922.0 310.4,924.2 308.8,926.2 307.1,923.8 305.5,926.6 303.8,927.0 302.2,928.1 300.6,927.0 298.9,929.7 297.3,927.6 295.6,929.7 294.0,929.1 292.3,929.9 290.7,926.6 289.1,928.1 287.4,928.8 285.8,925.8 284.1,927.0 282.5,924.9 280.8,922.9 279.2,924.5 277.6,926.1 275.9,926.4 274.3,927.7 272.6,927.9 271.0,929.4 269.3,928.5 267.7,931.6 266.1,929.4 264.4,930.4 262.8,927.7 261.1,928.9 259.5,929.4 257.8,928.4 256.2,929.3 254.6,933.2 252.9,936.5 251.3,940.5 249.6,940.4 248.0,945.6 246.3,944.3 244.7,949.8 243.1,947.5 241.4,951.5 239.8,954.7 238.1,954.1 236.5,956.2 234.8,959.3 233.2,962.1 231.6,966.6 229.9,965.7 228.3,968.5 226.6,976.2 225.0,977.3 223.3,982.2 221.7,990.1 220.1,991.4 218.4,989.5 216.8,988.3 215.1,987.8 213.5,988.2 211.8,990.1 210.2,991.1 208.6,994.0 206.9,998.8 205.3,994.5 203.6,994.2 202.0,990.7 200.3,994.3 198.7,997.5 197.1,996.4 195.4,1001.9 193.8,1000.6 192.1,999.4 190.5,995.5 188.8,992.4 187.2,991.1 185.6,990.6 183.9,985.9 182.3,984.2 180.6,981.8 179.0,979.4 177.3,977.2 175.7,976.2 174.1,972.0 172.4,965.3 170.8,957.9 169.1,949.5 167.5,939.6 165.8,928.0 164.2,915.3 162.6,902.2 160.9,889.6 159.3,877.3 157.6,865.1 156.0,852.9 154.3,841.5 152.7,827.1 151.1,811.8 149.4,805.8 147.8,803.3 146.1,801.9 144.5,801.0 142.8,800.2 141.2,799.6 139.6,799.2 137.9,798.8 136.3,798.5 134.6,798.2 133.0,798.0 131.3,797.8 129.7,797.7" fill="rgba(110,110,110,0.26)" stroke="none"/>
<polyline points="129.7,792.5 131.3,792.6 133.0,792.7 134.6,792.8 136.3,793.0 137.9,793.3 139.6,793.6 141.2,794.0 142.8,794.5 144.5,795.2 146.1,796.1 147.8,797.4 149.4,799.8 151.1,805.3 152.7,819.7 154.3,833.2 156.0,843.6 157.6,854.8 159.3,866.1 160.9,877.5 162.6,889.2 164.2,901.3 165.8,913.1 167.5,923.8 169.1,932.7 170.8,940.2 172.4,946.6 174.1,952.5 175.7,956.1 177.3,956.8 179.0,958.9 180.6,961.1 182.3,963.2 183.9,965.0 185.6,966.1 187.2,967.3 188.8,971.9 190.5,975.0 192.1,975.5 193.8,975.9 195.4,976.2 197.1,977.1 198.7,971.8 200.3,967.8 202.0,970.3 203.6,968.6 205.3,973.7 206.9,971.5 208.6,972.7 210.2,969.9 211.8,963.9 213.5,963.7 215.1,966.0 216.8,966.9 218.4,968.2 220.1,969.5 221.7,962.6 223.3,959.5 225.0,955.3 226.6,949.6 228.3,947.4 229.9,943.7 231.6,940.5 233.2,939.5 234.8,938.2 236.5,934.0 238.1,930.9 239.8,927.3 241.4,926.9 243.1,925.8 244.7,922.8 246.3,922.1 248.0,919.8 249.6,918.5 251.3,913.6 252.9,913.1 254.6,912.5 256.2,907.1 257.8,906.1 259.5,904.6 261.1,907.2 262.8,906.7 264.4,905.9 266.1,904.5 267.7,904.6 269.3,908.0 271.0,905.8 272.6,906.2 274.3,903.1 275.9,903.3 277.6,898.6 279.2,899.1 280.8,901.4 282.5,904.3 284.1,901.5 285.8,905.2 287.4,904.9 289.1,905.3 290.7,905.7 292.3,904.2 294.0,903.6 295.6,903.8 297.3,905.0 298.9,903.2 300.6,904.0 302.2,902.1 303.8,902.8 305.5,902.7 307.1,903.5 308.8,899.7 310.4,899.6 312.1,897.4 313.7,894.9 315.3,892.5 317.0,891.7 318.6,891.2 320.3,891.9 321.9,892.4 323.6,893.5 325.2,895.4 326.8,893.9 328.5,892.1 330.1,892.3 331.8,891.7 333.4,892.2 335.1,890.2 336.7,888.6 338.3,890.2 340.0,891.3 341.6,888.2 343.3,887.5 344.9,888.6 346.6,889.6 348.2,890.1 349.8,888.4 351.5,889.2 353.1,886.4 354.8,889.9 356.4,888.2 358.1,888.7 359.7,888.8 361.3,889.2 363.0,889.1 364.6,888.1 366.3,889.5 367.9,887.8 369.6,886.4 371.2,884.9 372.8,884.1 374.5,885.6 376.1,886.4 377.8,883.1 379.4,884.4 381.1,882.1 382.7,881.4 384.3,881.4 386.0,879.6 387.6,880.7 389.3,881.6 390.9,880.5 392.6,880.1 394.2,879.0 395.8,878.2 397.5,879.5 399.1,879.6 400.8,878.1 402.4,878.7 404.1,875.1 405.7,875.4 407.3,875.6 409.0,872.8 410.6,875.4 412.3,872.9 413.9,872.8 415.6,874.9 417.2,876.4 418.8,879.1 420.5,880.0 422.1,881.7 423.8,881.1 425.4,879.5 427.1,878.5 428.7,880.1 430.3,877.6 432.0,874.8 433.6,873.2 435.3,873.4 436.9,870.7 438.6,871.2 440.2,868.6 441.8,870.0 443.5,870.3 445.1,869.1 446.8,868.5 448.4,868.8 450.1,868.1 451.7,868.7 453.3,870.4 455.0,868.8 456.6,870.3 458.3,872.0 459.9,870.3 461.6,870.8 463.2,872.1 464.8,868.6 466.5,869.3 468.1,870.5 469.8,867.9 471.4,868.8 473.1,869.9 474.7,870.6 476.3,871.6 478.0,872.4 479.6,873.3 481.3,873.9 482.9,874.3 484.6,870.9 486.2,869.4 487.8,868.1 489.5,868.1 491.1,865.4 492.8,867.0 494.4,865.0 496.1,864.0 497.7,868.7 499.3,868.6 501.0,869.2 502.6,869.8 504.3,872.6 505.9,873.8 507.6,873.8 509.2,867.8 510.8,867.0 512.5,862.0 514.1,859.3 515.8,860.2 517.4,858.3 519.1,856.7 520.7,858.0 522.3,855.3 524.0,852.9 525.6,856.7 527.3,853.2 528.9,855.0 530.6,856.0 532.2,856.8 533.8,858.4 535.5,859.3" fill="none" stroke="rgba(90,90,90,0.42)" stroke-width="0.9"/>
<polyline points="129.7,797.7 131.3,797.8 133.0,798.0 134.6,798.2 136.3,798.5 137.9,798.8 139.6,799.2 141.2,799.6 142.8,800.2 144.5,801.0 146.1,801.9 147.8,803.3 149.4,805.8 151.1,811.8 152.7,827.1 154.3,841.5 156.0,852.9 157.6,865.1 159.3,877.3 160.9,889.6 162.6,902.2 164.2,915.3 165.8,928.0 167.5,939.6 169.1,949.5 170.8,957.9 172.4,965.3 174.1,972.0 175.7,976.2 177.3,977.2 179.0,979.4 180.6,981.8 182.3,984.2 183.9,985.9 185.6,990.6 187.2,991.1 188.8,992.4 190.5,995.5 192.1,999.4 193.8,1000.6 195.4,1001.9 197.1,996.4 198.7,997.5 200.3,994.3 202.0,990.7 203.6,994.2 205.3,994.5 206.9,998.8 208.6,994.0 210.2,991.1 211.8,990.1 213.5,988.2 215.1,987.8 216.8,988.3 218.4,989.5 220.1,991.4 221.7,990.1 223.3,982.2 225.0,977.3 226.6,976.2 228.3,968.5 229.9,965.7 231.6,966.6 233.2,962.1 234.8,959.3 236.5,956.2 238.1,954.1 239.8,954.7 241.4,951.5 243.1,947.5 244.7,949.8 246.3,944.3 248.0,945.6 249.6,940.4 251.3,940.5 252.9,936.5 254.6,933.2 256.2,929.3 257.8,928.4 259.5,929.4 261.1,928.9 262.8,927.7 264.4,930.4 266.1,929.4 267.7,931.6 269.3,928.5 271.0,929.4 272.6,927.9 274.3,927.7 275.9,926.4 277.6,926.1 279.2,924.5 280.8,922.9 282.5,924.9 284.1,927.0 285.8,925.8 287.4,928.8 289.1,928.1 290.7,926.6 292.3,929.9 294.0,929.1 295.6,929.7 297.3,927.6 298.9,929.7 300.6,927.0 302.2,928.1 303.8,927.0 305.5,926.6 307.1,923.8 308.8,926.2 310.4,924.2 312.1,922.0 313.7,917.4 315.3,912.5 317.0,911.2 318.6,913.7 320.3,915.9 321.9,915.7 323.6,914.3 325.2,916.4 326.8,914.2 328.5,917.0 330.1,914.0 331.8,912.6 333.4,912.1 335.1,914.1 336.7,912.8 338.3,912.4 340.0,910.6 341.6,911.9 343.3,910.3 344.9,908.6 346.6,910.6 348.2,909.5 349.8,910.4 351.5,909.1 353.1,910.4 354.8,908.2 356.4,911.4 358.1,910.7 359.7,908.3 361.3,906.8 363.0,909.3 364.6,910.6 366.3,907.6 367.9,908.8 369.6,907.4 371.2,906.8 372.8,905.2 374.5,905.5 376.1,903.5 377.8,904.4 379.4,903.1 381.1,903.4 382.7,902.2 384.3,900.8 386.0,902.1 387.6,903.3 389.3,899.4 390.9,901.3 392.6,899.4 394.2,901.4 395.8,900.9 397.5,900.5 399.1,901.0 400.8,899.0 402.4,897.0 404.1,898.1 405.7,895.7 407.3,894.5 409.0,895.0 410.6,893.0 412.3,893.3 413.9,892.8 415.6,896.8 417.2,898.2 418.8,898.1 420.5,897.9 422.1,901.8 423.8,903.2 425.4,902.2 427.1,901.2 428.7,898.5 430.3,896.4 432.0,895.7 433.6,895.3 435.3,892.3 436.9,892.9 438.6,889.5 440.2,891.4 441.8,890.5 443.5,890.6 445.1,889.7 446.8,891.4 448.4,888.2 450.1,888.5 451.7,889.9 453.3,890.7 455.0,891.6 456.6,888.9 458.3,889.8 459.9,892.3 461.6,890.7 463.2,890.3 464.8,891.2 466.5,891.0 468.1,888.7 469.8,889.0 471.4,888.0 473.1,887.6 474.7,888.4 476.3,890.2 478.0,892.6 479.6,892.6 481.3,894.1 482.9,892.5 484.6,891.8 486.2,891.5 487.8,890.3 489.5,889.6 491.1,887.8 492.8,886.0 494.4,883.4 496.1,886.3 497.7,887.2 499.3,887.2 501.0,891.3 502.6,891.6 504.3,892.1 505.9,890.9 507.6,895.0 509.2,890.7 510.8,887.1 512.5,882.1 514.1,877.5 515.8,877.9 517.4,878.7 519.1,877.2 520.7,876.2 522.3,877.4 524.0,875.5 525.6,874.1 527.3,873.0 528.9,874.0 530.6,876.2 532.2,877.5 533.8,879.6 535.5,877.4" fill="none" stroke="rgba(90,90,90,0.42)" stroke-width="0.9"/>
<polygon points="129.7,799.8 131.3,802.2 133.0,804.7 134.6,807.5 136.3,810.5 137.9,813.5 139.6,816.8 141.2,820.4 142.8,824.1 144.5,827.8 146.1,831.8 147.8,836.1 149.4,840.9 151.1,847.1 152.7,854.7 154.3,863.1 156.0,872.4 157.6,882.4 159.3,894.2 160.9,908.0 162.6,921.4 164.2,934.1 165.8,946.0 167.5,956.3 169.1,965.0 170.8,972.8 172.4,980.1 174.1,986.4 175.7,991.1 177.3,995.0 179.0,998.5 180.6,1001.6 182.3,1004.3 183.9,1007.0 185.6,1007.4 187.2,1006.7 188.8,1009.5 190.5,1011.6 192.1,1011.3 193.8,1013.5 195.4,1012.8 197.1,1011.6 198.7,1013.0 200.3,1011.8 202.0,1011.6 203.6,1010.8 205.3,1005.9 206.9,1006.0 208.6,1006.0 210.2,1003.3 211.8,1001.0 213.5,1001.4 215.1,996.5 216.8,996.5 218.4,994.0 220.1,993.4 221.7,989.4 223.3,989.0 225.0,985.5 226.6,984.0 228.3,981.4 229.9,980.5 231.6,977.6 233.2,976.3 234.8,971.3 236.5,970.9 238.1,967.3 239.8,966.5 241.4,961.6 243.1,959.7 244.7,957.2 246.3,953.7 248.0,951.6 249.6,948.1 251.3,944.0 252.9,943.2 254.6,946.2 256.2,942.8 257.8,945.0 259.5,943.2 261.1,945.3 262.8,946.6 264.4,946.0 266.1,945.7 267.7,944.5 269.3,941.1 271.0,941.1 272.6,940.9 274.3,939.9 275.9,939.3 277.6,937.2 279.2,936.6 280.8,937.5 282.5,937.4 284.1,935.9 285.8,932.6 287.4,933.8 289.1,934.8 290.7,935.0 292.3,935.5 294.0,937.6 295.6,932.7 297.3,933.0 298.9,931.6 300.6,929.8 302.2,926.9 303.8,925.5 305.5,925.2 307.1,924.6 308.8,922.4 310.4,926.0 312.1,922.0 313.7,923.3 315.3,921.8 317.0,923.8 318.6,920.7 320.3,919.4 321.9,915.0 323.6,915.4 325.2,912.5 326.8,912.5 328.5,911.3 330.1,907.1 331.8,907.7 333.4,905.0 335.1,907.3 336.7,904.8 338.3,902.9 340.0,900.1 341.6,899.6 343.3,899.9 344.9,900.2 346.6,897.8 348.2,898.9 349.8,898.2 351.5,897.7 353.1,895.9 354.8,896.1 356.4,896.0 358.1,898.3 359.7,900.1 361.3,899.0 363.0,897.6 364.6,897.8 366.3,896.8 367.9,898.7 369.6,893.9 371.2,895.0 372.8,894.2 374.5,894.2 376.1,890.7 377.8,891.9 379.4,889.7 381.1,887.2 382.7,888.5 384.3,884.2 386.0,883.7 387.6,883.4 389.3,882.9 390.9,884.4 392.6,881.9 394.2,884.4 395.8,885.1 397.5,884.8 399.1,887.1 400.8,889.1 402.4,889.3 404.1,889.0 405.7,890.0 407.3,888.6 409.0,891.7 410.6,890.1 412.3,887.9 413.9,888.4 415.6,888.6 417.2,889.1 418.8,889.5 420.5,888.2 422.1,886.7 423.8,885.9 425.4,884.4 427.1,887.4 428.7,887.4 430.3,886.3 432.0,887.4 433.6,886.2 435.3,885.2 436.9,883.5 438.6,883.7 440.2,882.9 441.8,886.9 443.5,884.3 445.1,883.0 446.8,883.5 448.4,883.4 450.1,883.8 451.7,881.6 453.3,881.4 455.0,881.9 456.6,881.3 458.3,877.6 459.9,878.9 461.6,880.3 463.2,879.6 464.8,878.2 466.5,877.8 468.1,877.7 469.8,877.5 471.4,879.5 473.1,885.1 474.7,884.3 476.3,887.3 478.0,890.4 479.6,889.7 481.3,889.1 482.9,889.4 484.6,884.7 486.2,884.1 487.8,881.7 489.5,881.3 491.1,883.1 492.8,885.0 494.4,885.1 496.1,886.5 497.7,883.1 499.3,882.5 501.0,880.4 502.6,877.6 504.3,876.7 505.9,877.5 507.6,876.0 509.2,875.2 510.8,877.4 512.5,880.7 514.1,880.8 515.8,883.0 517.4,883.2 519.1,883.0 520.7,883.0 522.3,882.4 524.0,882.9 525.6,879.4 527.3,880.1 528.9,880.7 530.6,880.3 532.2,881.5 533.8,882.4 535.5,882.8 535.5,902.6 533.8,902.4 532.2,903.4 530.6,904.4 528.9,904.7 527.3,902.3 525.6,903.7 524.0,904.9 522.3,905.5 520.7,907.6 519.1,908.1 517.4,907.6 515.8,902.6 514.1,903.6 512.5,901.7 510.8,900.6 509.2,900.7 507.6,900.4 505.9,900.6 504.3,901.5 502.6,901.2 501.0,902.6 499.3,904.0 497.7,904.9 496.1,906.2 494.4,908.9 492.8,908.4 491.1,908.0 489.5,906.4 487.8,905.7 486.2,908.9 484.6,909.5 482.9,911.5 481.3,915.0 479.6,911.1 478.0,910.0 476.3,910.0 474.7,909.7 473.1,905.5 471.4,905.4 469.8,899.8 468.1,899.1 466.5,900.5 464.8,902.9 463.2,902.5 461.6,902.2 459.9,904.4 458.3,904.2 456.6,902.3 455.0,902.4 453.3,903.2 451.7,905.4 450.1,905.7 448.4,906.3 446.8,908.4 445.1,908.5 443.5,907.9 441.8,907.3 440.2,908.9 438.6,908.6 436.9,908.2 435.3,909.3 433.6,906.6 432.0,907.6 430.3,907.9 428.7,908.0 427.1,908.3 425.4,911.5 423.8,908.1 422.1,908.3 420.5,910.5 418.8,910.7 417.2,909.9 415.6,912.9 413.9,911.8 412.3,913.7 410.6,913.3 409.0,912.5 407.3,913.8 405.7,915.1 404.1,916.1 402.4,916.3 400.8,913.5 399.1,913.3 397.5,911.5 395.8,909.2 394.2,909.5 392.6,906.6 390.9,905.8 389.3,907.6 387.6,909.1 386.0,910.2 384.3,911.4 382.7,909.7 381.1,914.3 379.4,915.3 377.8,914.0 376.1,916.7 374.5,914.9 372.8,916.6 371.2,919.2 369.6,921.3 367.9,919.7 366.3,923.5 364.6,924.8 363.0,925.2 361.3,924.4 359.7,922.4 358.1,922.8 356.4,923.2 354.8,921.1 353.1,917.9 351.5,918.8 349.8,920.4 348.2,922.5 346.6,922.5 344.9,924.4 343.3,924.3 341.6,927.7 340.0,927.2 338.3,925.7 336.7,928.2 335.1,928.4 333.4,929.3 331.8,930.6 330.1,935.4 328.5,933.1 326.8,935.6 325.2,939.7 323.6,939.6 321.9,943.4 320.3,945.7 318.6,947.2 317.0,945.2 315.3,945.1 313.7,946.6 312.1,949.2 310.4,948.2 308.8,950.2 307.1,950.4 305.5,949.7 303.8,950.6 302.2,953.0 300.6,952.6 298.9,955.4 297.3,957.8 295.6,960.5 294.0,958.9 292.3,960.9 290.7,958.7 289.1,957.0 287.4,955.4 285.8,960.4 284.1,959.9 282.5,958.9 280.8,961.0 279.2,964.0 277.6,964.8 275.9,963.7 274.3,963.5 272.6,965.6 271.0,967.9 269.3,966.6 267.7,966.3 266.1,967.0 264.4,968.6 262.8,969.4 261.1,970.6 259.5,970.5 257.8,967.9 256.2,970.5 254.6,967.4 252.9,969.1 251.3,968.7 249.6,972.6 248.0,972.5 246.3,977.2 244.7,978.6 243.1,982.5 241.4,983.3 239.8,987.3 238.1,990.5 236.5,991.9 234.8,996.1 233.2,997.5 231.6,999.1 229.9,1002.4 228.3,1004.5 226.6,1007.2 225.0,1010.3 223.3,1011.1 221.7,1014.4 220.1,1015.0 218.4,1017.3 216.8,1018.6 215.1,1023.5 213.5,1024.9 211.8,1026.1 210.2,1029.6 208.6,1026.7 206.9,1031.5 205.3,1033.0 203.6,1031.5 202.0,1033.1 200.3,1033.5 198.7,1033.9 197.1,1035.7 195.4,1034.4 193.8,1034.7 192.1,1034.0 190.5,1032.1 188.8,1032.7 187.2,1032.8 185.6,1032.2 183.9,1028.3 182.3,1027.1 180.6,1025.0 179.0,1022.3 177.3,1019.3 175.7,1015.9 174.1,1012.5 172.4,1008.1 170.8,1002.9 169.1,997.1 167.5,990.4 165.8,982.6 164.2,973.7 162.6,964.0 160.9,953.6 159.3,942.9 157.6,931.3 156.0,918.8 154.3,907.0 152.7,896.1 151.1,886.0 149.4,876.7 147.8,868.4 146.1,860.6 144.5,853.1 142.8,845.9 141.2,839.5 139.6,834.0 137.9,828.8 136.3,824.0 134.6,819.6 133.0,815.9 131.3,812.7 129.7,809.4" fill="rgba(240,70,70,0.22)" stroke="none"/>
<polyline points="129.7,799.8 131.3,802.2 133.0,804.7 134.6,807.5 136.3,810.5 137.9,813.5 139.6,816.8 141.2,820.4 142.8,824.1 144.5,827.8 146.1,831.8 147.8,836.1 149.4,840.9 151.1,847.1 152.7,854.7 154.3,863.1 156.0,872.4 157.6,882.4 159.3,894.2 160.9,908.0 162.6,921.4 164.2,934.1 165.8,946.0 167.5,956.3 169.1,965.0 170.8,972.8 172.4,980.1 174.1,986.4 175.7,991.1 177.3,995.0 179.0,998.5 180.6,1001.6 182.3,1004.3 183.9,1007.0 185.6,1007.4 187.2,1006.7 188.8,1009.5 190.5,1011.6 192.1,1011.3 193.8,1013.5 195.4,1012.8 197.1,1011.6 198.7,1013.0 200.3,1011.8 202.0,1011.6 203.6,1010.8 205.3,1005.9 206.9,1006.0 208.6,1006.0 210.2,1003.3 211.8,1001.0 213.5,1001.4 215.1,996.5 216.8,996.5 218.4,994.0 220.1,993.4 221.7,989.4 223.3,989.0 225.0,985.5 226.6,984.0 228.3,981.4 229.9,980.5 231.6,977.6 233.2,976.3 234.8,971.3 236.5,970.9 238.1,967.3 239.8,966.5 241.4,961.6 243.1,959.7 244.7,957.2 246.3,953.7 248.0,951.6 249.6,948.1 251.3,944.0 252.9,943.2 254.6,946.2 256.2,942.8 257.8,945.0 259.5,943.2 261.1,945.3 262.8,946.6 264.4,946.0 266.1,945.7 267.7,944.5 269.3,941.1 271.0,941.1 272.6,940.9 274.3,939.9 275.9,939.3 277.6,937.2 279.2,936.6 280.8,937.5 282.5,937.4 284.1,935.9 285.8,932.6 287.4,933.8 289.1,934.8 290.7,935.0 292.3,935.5 294.0,937.6 295.6,932.7 297.3,933.0 298.9,931.6 300.6,929.8 302.2,926.9 303.8,925.5 305.5,925.2 307.1,924.6 308.8,922.4 310.4,926.0 312.1,922.0 313.7,923.3 315.3,921.8 317.0,923.8 318.6,920.7 320.3,919.4 321.9,915.0 323.6,915.4 325.2,912.5 326.8,912.5 328.5,911.3 330.1,907.1 331.8,907.7 333.4,905.0 335.1,907.3 336.7,904.8 338.3,902.9 340.0,900.1 341.6,899.6 343.3,899.9 344.9,900.2 346.6,897.8 348.2,898.9 349.8,898.2 351.5,897.7 353.1,895.9 354.8,896.1 356.4,896.0 358.1,898.3 359.7,900.1 361.3,899.0 363.0,897.6 364.6,897.8 366.3,896.8 367.9,898.7 369.6,893.9 371.2,895.0 372.8,894.2 374.5,894.2 376.1,890.7 377.8,891.9 379.4,889.7 381.1,887.2 382.7,888.5 384.3,884.2 386.0,883.7 387.6,883.4 389.3,882.9 390.9,884.4 392.6,881.9 394.2,884.4 395.8,885.1 397.5,884.8 399.1,887.1 400.8,889.1 402.4,889.3 404.1,889.0 405.7,890.0 407.3,888.6 409.0,891.7 410.6,890.1 412.3,887.9 413.9,888.4 415.6,888.6 417.2,889.1 418.8,889.5 420.5,888.2 422.1,886.7 423.8,885.9 425.4,884.4 427.1,887.4 428.7,887.4 430.3,886.3 432.0,887.4 433.6,886.2 435.3,885.2 436.9,883.5 438.6,883.7 440.2,882.9 441.8,886.9 443.5,884.3 445.1,883.0 446.8,883.5 448.4,883.4 450.1,883.8 451.7,881.6 453.3,881.4 455.0,881.9 456.6,881.3 458.3,877.6 459.9,878.9 461.6,880.3 463.2,879.6 464.8,878.2 466.5,877.8 468.1,877.7 469.8,877.5 471.4,879.5 473.1,885.1 474.7,884.3 476.3,887.3 478.0,890.4 479.6,889.7 481.3,889.1 482.9,889.4 484.6,884.7 486.2,884.1 487.8,881.7 489.5,881.3 491.1,883.1 492.8,885.0 494.4,885.1 496.1,886.5 497.7,883.1 499.3,882.5 501.0,880.4 502.6,877.6 504.3,876.7 505.9,877.5 507.6,876.0 509.2,875.2 510.8,877.4 512.5,880.7 514.1,880.8 515.8,883.0 517.4,883.2 519.1,883.0 520.7,883.0 522.3,882.4 524.0,882.9 525.6,879.4 527.3,880.1 528.9,880.7 530.6,880.3 532.2,881.5 533.8,882.4 535.5,882.8" fill="none" stroke="rgba(240,70,70,0.35)" stroke-width="0.9"/>
<polyline points="129.7,809.4 131.3,812.7 133.0,815.9 134.6,819.6 136.3,824.0 137.9,828.8 139.6,834.0 141.2,839.5 142.8,845.9 144.5,853.1 146.1,860.6 147.8,868.4 149.4,876.7 151.1,886.0 152.7,896.1 154.3,907.0 156.0,918.8 157.6,931.3 159.3,942.9 160.9,953.6 162.6,964.0 164.2,973.7 165.8,982.6 167.5,990.4 169.1,997.1 170.8,1002.9 172.4,1008.1 174.1,1012.5 175.7,1015.9 177.3,1019.3 179.0,1022.3 180.6,1025.0 182.3,1027.1 183.9,1028.3 185.6,1032.2 187.2,1032.8 188.8,1032.7 190.5,1032.1 192.1,1034.0 193.8,1034.7 195.4,1034.4 197.1,1035.7 198.7,1033.9 200.3,1033.5 202.0,1033.1 203.6,1031.5 205.3,1033.0 206.9,1031.5 208.6,1026.7 210.2,1029.6 211.8,1026.1 213.5,1024.9 215.1,1023.5 216.8,1018.6 218.4,1017.3 220.1,1015.0 221.7,1014.4 223.3,1011.1 225.0,1010.3 226.6,1007.2 228.3,1004.5 229.9,1002.4 231.6,999.1 233.2,997.5 234.8,996.1 236.5,991.9 238.1,990.5 239.8,987.3 241.4,983.3 243.1,982.5 244.7,978.6 246.3,977.2 248.0,972.5 249.6,972.6 251.3,968.7 252.9,969.1 254.6,967.4 256.2,970.5 257.8,967.9 259.5,970.5 261.1,970.6 262.8,969.4 264.4,968.6 266.1,967.0 267.7,966.3 269.3,966.6 271.0,967.9 272.6,965.6 274.3,963.5 275.9,963.7 277.6,964.8 279.2,964.0 280.8,961.0 282.5,958.9 284.1,959.9 285.8,960.4 287.4,955.4 289.1,957.0 290.7,958.7 292.3,960.9 294.0,958.9 295.6,960.5 297.3,957.8 298.9,955.4 300.6,952.6 302.2,953.0 303.8,950.6 305.5,949.7 307.1,950.4 308.8,950.2 310.4,948.2 312.1,949.2 313.7,946.6 315.3,945.1 317.0,945.2 318.6,947.2 320.3,945.7 321.9,943.4 323.6,939.6 325.2,939.7 326.8,935.6 328.5,933.1 330.1,935.4 331.8,930.6 333.4,929.3 335.1,928.4 336.7,928.2 338.3,925.7 340.0,927.2 341.6,927.7 343.3,924.3 344.9,924.4 346.6,922.5 348.2,922.5 349.8,920.4 351.5,918.8 353.1,917.9 354.8,921.1 356.4,923.2 358.1,922.8 359.7,922.4 361.3,924.4 363.0,925.2 364.6,924.8 366.3,923.5 367.9,919.7 369.6,921.3 371.2,919.2 372.8,916.6 374.5,914.9 376.1,916.7 377.8,914.0 379.4,915.3 381.1,914.3 382.7,909.7 384.3,911.4 386.0,910.2 387.6,909.1 389.3,907.6 390.9,905.8 392.6,906.6 394.2,909.5 395.8,909.2 397.5,911.5 399.1,913.3 400.8,913.5 402.4,916.3 404.1,916.1 405.7,915.1 407.3,913.8 409.0,912.5 410.6,913.3 412.3,913.7 413.9,911.8 415.6,912.9 417.2,909.9 418.8,910.7 420.5,910.5 422.1,908.3 423.8,908.1 425.4,911.5 427.1,908.3 428.7,908.0 430.3,907.9 432.0,907.6 433.6,906.6 435.3,909.3 436.9,908.2 438.6,908.6 440.2,908.9 441.8,907.3 443.5,907.9 445.1,908.5 446.8,908.4 448.4,906.3 450.1,905.7 451.7,905.4 453.3,903.2 455.0,902.4 456.6,902.3 458.3,904.2 459.9,904.4 461.6,902.2 463.2,902.5 464.8,902.9 466.5,900.5 468.1,899.1 469.8,899.8 471.4,905.4 473.1,905.5 474.7,909.7 476.3,910.0 478.0,910.0 479.6,911.1 481.3,915.0 482.9,911.5 484.6,909.5 486.2,908.9 487.8,905.7 489.5,906.4 491.1,908.0 492.8,908.4 494.4,908.9 496.1,906.2 497.7,904.9 499.3,904.0 501.0,902.6 502.6,901.2 504.3,901.5 505.9,900.6 507.6,900.4 509.2,900.7 510.8,900.6 512.5,901.7 514.1,903.6 515.8,902.6 517.4,907.6 519.1,908.1 520.7,907.6 522.3,905.5 524.0,904.9 525.6,903.7 527.3,902.3 528.9,904.7 530.6,904.4 532.2,903.4 533.8,902.4 535.5,902.6" fill="none" stroke="rgba(240,70,70,0.35)" stroke-width="0.9"/>
<polygon points="129.7,788.7 131.3,788.6 133.0,788.5 134.6,788.5 136.3,788.5 137.9,787.5 139.6,785.4 141.2,783.4 142.8,782.8 144.5,782.4 146.1,782.2 147.8,782.3 149.4,782.7 151.1,786.2 152.7,799.1 154.3,813.3 156.0,823.8 157.6,833.8 159.3,845.1 160.9,857.4 162.6,869.4 164.2,880.1 165.8,888.7 167.5,896.5 169.1,903.7 170.8,910.5 172.4,917.2 174.1,924.1 175.7,931.5 177.3,938.5 179.0,942.4 180.6,942.3 182.3,940.6 183.9,939.1 185.6,937.1 187.2,938.9 188.8,940.0 190.5,945.0 192.1,950.5 193.8,954.0 195.4,954.6 197.1,960.1 198.7,961.7 200.3,963.7 202.0,963.6 203.6,960.8 205.3,962.2 206.9,959.1 208.6,959.5 210.2,958.6 211.8,958.4 213.5,957.7 215.1,956.3 216.8,953.0 218.4,949.3 220.1,945.2 221.7,940.8 223.3,935.5 225.0,932.6 226.6,928.3 228.3,925.1 229.9,922.8 231.6,918.1 233.2,916.4 234.8,914.4 236.5,907.5 238.1,906.7 239.8,907.7 241.4,902.8 243.1,903.6 244.7,901.4 246.3,900.7 248.0,896.6 249.6,899.0 251.3,896.3 252.9,894.2 254.6,892.8 256.2,894.1 257.8,891.7 259.5,891.7 261.1,889.3 262.8,889.6 264.4,886.7 266.1,885.2 267.7,884.0 269.3,884.5 271.0,881.8 272.6,882.8 274.3,880.8 275.9,881.7 277.6,877.3 279.2,876.0 280.8,875.9 282.5,876.0 284.1,877.4 285.8,874.8 287.4,875.3 289.1,876.6 290.7,875.1 292.3,877.4 294.0,877.6 295.6,878.2 297.3,879.4 298.9,877.2 300.6,877.2 302.2,881.4 303.8,880.2 305.5,880.6 307.1,882.3 308.8,880.5 310.4,883.6 312.1,884.1 313.7,883.4 315.3,880.4 317.0,880.8 318.6,878.7 320.3,878.0 321.9,875.6 323.6,875.8 325.2,873.5 326.8,872.9 328.5,870.2 330.1,870.3 331.8,871.5 333.4,873.4 335.1,874.9 336.7,876.7 338.3,876.8 340.0,874.0 341.6,868.2 343.3,864.5 344.9,862.9 346.6,867.3 348.2,865.0 349.8,865.9 351.5,867.6 353.1,869.3 354.8,869.8 356.4,869.1 358.1,873.2 359.7,872.2 361.3,876.4 363.0,874.8 364.6,875.1 366.3,874.1 367.9,872.1 369.6,871.5 371.2,870.6 372.8,870.4 374.5,868.8 376.1,865.9 377.8,869.5 379.4,869.2 381.1,873.2 382.7,873.8 384.3,872.1 386.0,868.7 387.6,867.3 389.3,865.3 390.9,864.0 392.6,860.6 394.2,858.3 395.8,855.9 397.5,853.0 399.1,854.0 400.8,854.6 402.4,853.9 404.1,858.3 405.7,858.9 407.3,859.9 409.0,859.8 410.6,857.9 412.3,856.9 413.9,857.9 415.6,862.2 417.2,860.2 418.8,861.3 420.5,862.2 422.1,864.1 423.8,864.4 425.4,862.4 427.1,863.9 428.7,867.7 430.3,866.6 432.0,869.2 433.6,868.9 435.3,867.1 436.9,868.9 438.6,868.3 440.2,868.5 441.8,870.0 443.5,870.4 445.1,871.5 446.8,872.0 448.4,870.1 450.1,872.4 451.7,874.0 453.3,872.2 455.0,874.1 456.6,873.7 458.3,875.5 459.9,873.9 461.6,876.0 463.2,876.3 464.8,875.9 466.5,875.1 468.1,872.9 469.8,874.4 471.4,873.1 473.1,872.2 474.7,872.5 476.3,873.0 478.0,868.5 479.6,870.5 481.3,869.8 482.9,868.3 484.6,867.6 486.2,866.0 487.8,864.4 489.5,863.9 491.1,864.8 492.8,863.4 494.4,863.5 496.1,861.8 497.7,861.4 499.3,860.3 501.0,861.5 502.6,859.9 504.3,859.5 505.9,857.2 507.6,858.7 509.2,859.3 510.8,858.9 512.5,860.1 514.1,858.7 515.8,859.4 517.4,857.4 519.1,857.6 520.7,858.2 522.3,857.6 524.0,856.2 525.6,858.8 527.3,858.0 528.9,858.1 530.6,859.1 532.2,857.8 533.8,859.7 535.5,859.0 535.5,881.1 533.8,880.5 532.2,880.4 530.6,877.8 528.9,878.5 527.3,880.6 525.6,878.2 524.0,879.0 522.3,880.0 520.7,876.3 519.1,878.4 517.4,876.9 515.8,877.3 514.1,877.8 512.5,877.6 510.8,878.7 509.2,878.5 507.6,881.1 505.9,880.0 504.3,879.2 502.6,882.7 501.0,880.7 499.3,882.1 497.7,882.8 496.1,883.6 494.4,882.3 492.8,885.3 491.1,885.1 489.5,887.1 487.8,887.8 486.2,887.1 484.6,889.0 482.9,887.3 481.3,889.1 479.6,889.1 478.0,892.1 476.3,892.1 474.7,894.3 473.1,893.8 471.4,893.2 469.8,894.1 468.1,896.4 466.5,895.1 464.8,894.9 463.2,895.1 461.6,896.8 459.9,897.8 458.3,895.1 456.6,895.0 455.0,895.3 453.3,893.9 451.7,892.4 450.1,891.8 448.4,893.9 446.8,890.6 445.1,891.7 443.5,890.5 441.8,891.8 440.2,889.5 438.6,891.6 436.9,888.9 435.3,890.3 433.6,889.9 432.0,887.3 430.3,888.3 428.7,887.6 427.1,887.8 425.4,886.7 423.8,886.2 422.1,883.7 420.5,883.7 418.8,884.2 417.2,881.3 415.6,881.8 413.9,882.1 412.3,881.1 410.6,880.0 409.0,878.7 407.3,878.1 405.7,877.6 404.1,876.8 402.4,877.4 400.8,876.7 399.1,875.0 397.5,877.4 395.8,879.7 394.2,882.5 392.6,883.5 390.9,885.0 389.3,887.7 387.6,889.8 386.0,892.2 384.3,893.9 382.7,895.6 381.1,892.2 379.4,893.2 377.8,889.1 376.1,886.3 374.5,888.3 372.8,889.0 371.2,889.2 369.6,891.3 367.9,896.2 366.3,894.6 364.6,896.0 363.0,899.0 361.3,895.3 359.7,897.1 358.1,893.1 356.4,893.0 354.8,890.9 353.1,890.6 351.5,890.3 349.8,889.7 348.2,889.2 346.6,886.8 344.9,887.5 343.3,885.7 341.6,893.1 340.0,898.1 338.3,897.2 336.7,896.9 335.1,895.8 333.4,895.5 331.8,895.2 330.1,893.6 328.5,895.5 326.8,896.2 325.2,897.4 323.6,896.2 321.9,900.2 320.3,898.5 318.6,901.6 317.0,900.8 315.3,902.7 313.7,903.9 312.1,904.4 310.4,905.0 308.8,905.8 307.1,902.9 305.5,904.2 303.8,902.3 302.2,900.6 300.6,902.6 298.9,901.4 297.3,900.6 295.6,898.3 294.0,899.0 292.3,898.2 290.7,899.0 289.1,896.7 287.4,898.1 285.8,900.3 284.1,898.9 282.5,897.8 280.8,898.7 279.2,901.3 277.6,902.6 275.9,901.0 274.3,904.9 272.6,904.3 271.0,906.3 269.3,907.7 267.7,908.3 266.1,910.5 264.4,909.6 262.8,911.7 261.1,911.3 259.5,911.8 257.8,915.5 256.2,915.2 254.6,916.7 252.9,916.8 251.3,917.4 249.6,920.1 248.0,921.8 246.3,921.6 244.7,923.8 243.1,924.3 241.4,927.6 239.8,929.0 238.1,929.3 236.5,933.3 234.8,933.8 233.2,937.2 231.6,942.5 229.9,942.0 228.3,949.4 226.6,950.0 225.0,952.9 223.3,957.9 221.7,963.2 220.1,965.8 218.4,968.9 216.8,974.5 215.1,975.7 213.5,978.1 211.8,978.3 210.2,980.4 208.6,980.2 206.9,981.1 205.3,981.4 203.6,985.1 202.0,984.8 200.3,983.2 198.7,984.8 197.1,980.9 195.4,979.3 193.8,976.9 192.1,971.1 190.5,966.9 188.8,960.5 187.2,957.8 185.6,959.2 183.9,960.6 182.3,961.2 180.6,962.8 179.0,962.7 177.3,958.7 175.7,951.7 174.1,944.2 172.4,937.3 170.8,930.6 169.1,923.7 167.5,916.5 165.8,908.7 164.2,900.1 162.6,889.5 160.9,876.1 159.3,862.4 157.6,849.7 156.0,838.4 154.3,826.5 152.7,811.9 151.1,799.5 149.4,796.2 147.8,795.8 146.1,795.7 144.5,796.0 142.8,796.3 141.2,797.0 139.6,796.7 137.9,796.6 136.3,796.4 134.6,796.3 133.0,796.2 131.3,796.1 129.7,796.0" fill="rgba(70,70,235,0.24)" stroke="none"/>
<polyline points="129.7,788.7 131.3,788.6 133.0,788.5 134.6,788.5 136.3,788.5 137.9,787.5 139.6,785.4 141.2,783.4 142.8,782.8 144.5,782.4 146.1,782.2 147.8,782.3 149.4,782.7 151.1,786.2 152.7,799.1 154.3,813.3 156.0,823.8 157.6,833.8 159.3,845.1 160.9,857.4 162.6,869.4 164.2,880.1 165.8,888.7 167.5,896.5 169.1,903.7 170.8,910.5 172.4,917.2 174.1,924.1 175.7,931.5 177.3,938.5 179.0,942.4 180.6,942.3 182.3,940.6 183.9,939.1 185.6,937.1 187.2,938.9 188.8,940.0 190.5,945.0 192.1,950.5 193.8,954.0 195.4,954.6 197.1,960.1 198.7,961.7 200.3,963.7 202.0,963.6 203.6,960.8 205.3,962.2 206.9,959.1 208.6,959.5 210.2,958.6 211.8,958.4 213.5,957.7 215.1,956.3 216.8,953.0 218.4,949.3 220.1,945.2 221.7,940.8 223.3,935.5 225.0,932.6 226.6,928.3 228.3,925.1 229.9,922.8 231.6,918.1 233.2,916.4 234.8,914.4 236.5,907.5 238.1,906.7 239.8,907.7 241.4,902.8 243.1,903.6 244.7,901.4 246.3,900.7 248.0,896.6 249.6,899.0 251.3,896.3 252.9,894.2 254.6,892.8 256.2,894.1 257.8,891.7 259.5,891.7 261.1,889.3 262.8,889.6 264.4,886.7 266.1,885.2 267.7,884.0 269.3,884.5 271.0,881.8 272.6,882.8 274.3,880.8 275.9,881.7 277.6,877.3 279.2,876.0 280.8,875.9 282.5,876.0 284.1,877.4 285.8,874.8 287.4,875.3 289.1,876.6 290.7,875.1 292.3,877.4 294.0,877.6 295.6,878.2 297.3,879.4 298.9,877.2 300.6,877.2 302.2,881.4 303.8,880.2 305.5,880.6 307.1,882.3 308.8,880.5 310.4,883.6 312.1,884.1 313.7,883.4 315.3,880.4 317.0,880.8 318.6,878.7 320.3,878.0 321.9,875.6 323.6,875.8 325.2,873.5 326.8,872.9 328.5,870.2 330.1,870.3 331.8,871.5 333.4,873.4 335.1,874.9 336.7,876.7 338.3,876.8 340.0,874.0 341.6,868.2 343.3,864.5 344.9,862.9 346.6,867.3 348.2,865.0 349.8,865.9 351.5,867.6 353.1,869.3 354.8,869.8 356.4,869.1 358.1,873.2 359.7,872.2 361.3,876.4 363.0,874.8 364.6,875.1 366.3,874.1 367.9,872.1 369.6,871.5 371.2,870.6 372.8,870.4 374.5,868.8 376.1,865.9 377.8,869.5 379.4,869.2 381.1,873.2 382.7,873.8 384.3,872.1 386.0,868.7 387.6,867.3 389.3,865.3 390.9,864.0 392.6,860.6 394.2,858.3 395.8,855.9 397.5,853.0 399.1,854.0 400.8,854.6 402.4,853.9 404.1,858.3 405.7,858.9 407.3,859.9 409.0,859.8 410.6,857.9 412.3,856.9 413.9,857.9 415.6,862.2 417.2,860.2 418.8,861.3 420.5,862.2 422.1,864.1 423.8,864.4 425.4,862.4 427.1,863.9 428.7,867.7 430.3,866.6 432.0,869.2 433.6,868.9 435.3,867.1 436.9,868.9 438.6,868.3 440.2,868.5 441.8,870.0 443.5,870.4 445.1,871.5 446.8,872.0 448.4,870.1 450.1,872.4 451.7,874.0 453.3,872.2 455.0,874.1 456.6,873.7 458.3,875.5 459.9,873.9 461.6,876.0 463.2,876.3 464.8,875.9 466.5,875.1 468.1,872.9 469.8,874.4 471.4,873.1 473.1,872.2 474.7,872.5 476.3,873.0 478.0,868.5 479.6,870.5 481.3,869.8 482.9,868.3 484.6,867.6 486.2,866.0 487.8,864.4 489.5,863.9 491.1,864.8 492.8,863.4 494.4,863.5 496.1,861.8 497.7,861.4 499.3,860.3 501.0,861.5 502.6,859.9 504.3,859.5 505.9,857.2 507.6,858.7 509.2,859.3 510.8,858.9 512.5,860.1 514.1,858.7 515.8,859.4 517.4,857.4 519.1,857.6 520.7,858.2 522.3,857.6 524.0,856.2 525.6,858.8 527.3,858.0 528.9,858.1 530.6,859.1 532.2,857.8 533.8,859.7 535.5,859.0" fill="none" stroke="rgba(70,70,235,0.35)" stroke-width="0.9"/>
<polyline points="129.7,796.0 131.3,796.1 133.0,796.2 134.6,796.3 136.3,796.4 137.9,796.6 139.6,796.7 141.2,797.0 142.8,796.3 144.5,796.0 146.1,795.7 147.8,795.8 149.4,796.2 151.1,799.5 152.7,811.9 154.3,826.5 156.0,838.4 157.6,849.7 159.3,862.4 160.9,876.1 162.6,889.5 164.2,900.1 165.8,908.7 167.5,916.5 169.1,923.7 170.8,930.6 172.4,937.3 174.1,944.2 175.7,951.7 177.3,958.7 179.0,962.7 180.6,962.8 182.3,961.2 183.9,960.6 185.6,959.2 187.2,957.8 188.8,960.5 190.5,966.9 192.1,971.1 193.8,976.9 195.4,979.3 197.1,980.9 198.7,984.8 200.3,983.2 202.0,984.8 203.6,985.1 205.3,981.4 206.9,981.1 208.6,980.2 210.2,980.4 211.8,978.3 213.5,978.1 215.1,975.7 216.8,974.5 218.4,968.9 220.1,965.8 221.7,963.2 223.3,957.9 225.0,952.9 226.6,950.0 228.3,949.4 229.9,942.0 231.6,942.5 233.2,937.2 234.8,933.8 236.5,933.3 238.1,929.3 239.8,929.0 241.4,927.6 243.1,924.3 244.7,923.8 246.3,921.6 248.0,921.8 249.6,920.1 251.3,917.4 252.9,916.8 254.6,916.7 256.2,915.2 257.8,915.5 259.5,911.8 261.1,911.3 262.8,911.7 264.4,909.6 266.1,910.5 267.7,908.3 269.3,907.7 271.0,906.3 272.6,904.3 274.3,904.9 275.9,901.0 277.6,902.6 279.2,901.3 280.8,898.7 282.5,897.8 284.1,898.9 285.8,900.3 287.4,898.1 289.1,896.7 290.7,899.0 292.3,898.2 294.0,899.0 295.6,898.3 297.3,900.6 298.9,901.4 300.6,902.6 302.2,900.6 303.8,902.3 305.5,904.2 307.1,902.9 308.8,905.8 310.4,905.0 312.1,904.4 313.7,903.9 315.3,902.7 317.0,900.8 318.6,901.6 320.3,898.5 321.9,900.2 323.6,896.2 325.2,897.4 326.8,896.2 328.5,895.5 330.1,893.6 331.8,895.2 333.4,895.5 335.1,895.8 336.7,896.9 338.3,897.2 340.0,898.1 341.6,893.1 343.3,885.7 344.9,887.5 346.6,886.8 348.2,889.2 349.8,889.7 351.5,890.3 353.1,890.6 354.8,890.9 356.4,893.0 358.1,893.1 359.7,897.1 361.3,895.3 363.0,899.0 364.6,896.0 366.3,894.6 367.9,896.2 369.6,891.3 371.2,889.2 372.8,889.0 374.5,888.3 376.1,886.3 377.8,889.1 379.4,893.2 381.1,892.2 382.7,895.6 384.3,893.9 386.0,892.2 387.6,889.8 389.3,887.7 390.9,885.0 392.6,883.5 394.2,882.5 395.8,879.7 397.5,877.4 399.1,875.0 400.8,876.7 402.4,877.4 404.1,876.8 405.7,877.6 407.3,878.1 409.0,878.7 410.6,880.0 412.3,881.1 413.9,882.1 415.6,881.8 417.2,881.3 418.8,884.2 420.5,883.7 422.1,883.7 423.8,886.2 425.4,886.7 427.1,887.8 428.7,887.6 430.3,888.3 432.0,887.3 433.6,889.9 435.3,890.3 436.9,888.9 438.6,891.6 440.2,889.5 441.8,891.8 443.5,890.5 445.1,891.7 446.8,890.6 448.4,893.9 450.1,891.8 451.7,892.4 453.3,893.9 455.0,895.3 456.6,895.0 458.3,895.1 459.9,897.8 461.6,896.8 463.2,895.1 464.8,894.9 466.5,895.1 468.1,896.4 469.8,894.1 471.4,893.2 473.1,893.8 474.7,894.3 476.3,892.1 478.0,892.1 479.6,889.1 481.3,889.1 482.9,887.3 484.6,889.0 486.2,887.1 487.8,887.8 489.5,887.1 491.1,885.1 492.8,885.3 494.4,882.3 496.1,883.6 497.7,882.8 499.3,882.1 501.0,880.7 502.6,882.7 504.3,879.2 505.9,880.0 507.6,881.1 509.2,878.5 510.8,878.7 512.5,877.6 514.1,877.8 515.8,877.3 517.4,876.9 519.1,878.4 520.7,876.3 522.3,880.0 524.0,879.0 525.6,878.2 527.3,880.6 528.9,878.5 530.6,877.8 532.2,880.4 533.8,880.5 535.5,881.1" fill="none" stroke="rgba(70,70,235,0.35)" stroke-width="0.9"/>
<polyline points="129.7,795.1 131.3,795.2 133.0,795.3 134.6,795.5 136.3,795.7 137.9,796.0 139.6,796.4 141.2,796.8 142.8,797.4 144.5,798.1 146.1,799.0 147.8,800.4 149.4,802.8 151.1,808.5 152.7,823.4 154.3,837.3 156.0,848.3 157.6,859.9 159.3,871.7 160.9,883.5 162.6,895.7 164.2,908.3 165.8,920.6 167.5,931.7 169.1,941.1 170.8,949.0 172.4,956.0 174.1,962.2 175.7,966.1 177.3,967.0 179.0,969.2 180.6,971.4 182.3,973.7 183.9,975.5 185.6,978.4 187.2,979.2 188.8,982.1 190.5,985.3 192.1,987.5 193.8,988.2 195.4,989.0 197.1,986.8 198.7,984.7 200.3,981.1 202.0,980.5 203.6,981.4 205.3,984.1 206.9,985.2 208.6,983.4 210.2,980.5 211.8,977.0 213.5,976.0 215.1,976.9 216.8,977.6 218.4,978.9 220.1,980.5 221.7,976.3 223.3,970.9 225.0,966.3 226.6,962.9 228.3,958.0 229.9,954.7 231.6,953.5 233.2,950.8 234.8,948.7 236.5,945.1 238.1,942.5 239.8,941.0 241.4,939.2 243.1,936.7 244.7,936.3 246.3,933.2 248.0,932.7 249.6,929.4 251.3,927.0 252.9,924.8 254.6,922.9 256.2,918.2 257.8,917.2 259.5,917.0 261.1,918.1 262.8,917.2 264.4,918.2 266.1,916.9 267.7,918.1 269.3,918.2 271.0,917.6 272.6,917.0 274.3,915.4 275.9,914.9 277.6,912.4 279.2,911.8 280.8,912.2 282.5,914.6 284.1,914.3 285.8,915.5 287.4,916.9 289.1,916.7 290.7,916.1 292.3,917.1 294.0,916.3 295.6,916.7 297.3,916.3 298.9,916.5 300.6,915.5 302.2,915.1 303.8,914.9 305.5,914.7 307.1,913.6 308.8,913.0 310.4,911.9 312.1,909.7 313.7,906.2 315.3,902.5 317.0,901.5 318.6,902.5 320.3,903.9 321.9,904.1 323.6,903.9 325.2,905.9 326.8,904.0 328.5,904.6 330.1,903.1 331.8,902.2 333.4,902.1 335.1,902.1 336.7,900.7 338.3,901.3 340.0,900.9 341.6,900.1 343.3,898.9 344.9,898.6 346.6,900.1 348.2,899.8 349.8,899.4 351.5,899.2 353.1,898.4 354.8,899.0 356.4,899.8 358.1,899.7 359.7,898.5 361.3,898.0 363.0,899.2 364.6,899.3 366.3,898.6 367.9,898.3 369.6,896.9 371.2,895.9 372.8,894.6 374.5,895.5 376.1,895.0 377.8,893.8 379.4,893.7 381.1,892.8 382.7,891.8 384.3,891.1 386.0,890.8 387.6,892.0 389.3,890.5 390.9,890.9 392.6,889.7 394.2,890.2 395.8,889.5 397.5,890.0 399.1,890.3 400.8,888.5 402.4,887.8 404.1,886.6 405.7,885.6 407.3,885.0 409.0,883.9 410.6,884.2 412.3,883.1 413.9,882.8 415.6,885.8 417.2,887.3 418.8,888.6 420.5,888.9 422.1,891.7 423.8,892.1 425.4,890.8 427.1,889.8 428.7,889.3 430.3,887.0 432.0,885.2 433.6,884.3 435.3,882.8 436.9,881.8 438.6,880.3 440.2,880.0 441.8,880.2 443.5,880.4 445.1,879.4 446.8,879.9 448.4,878.5 450.1,878.3 451.7,879.3 453.3,880.6 455.0,880.2 456.6,879.6 458.3,880.9 459.9,881.3 461.6,880.8 463.2,881.2 464.8,879.9 466.5,880.1 468.1,879.6 469.8,878.5 471.4,878.4 473.1,878.8 474.7,879.5 476.3,880.9 478.0,882.5 479.6,883.0 481.3,884.0 482.9,883.4 484.6,881.4 486.2,880.5 487.8,879.2 489.5,878.9 491.1,876.6 492.8,876.5 494.4,874.2 496.1,875.1 497.7,878.0 499.3,877.9 501.0,880.2 502.6,880.7 504.3,882.4 505.9,882.3 507.6,884.4 509.2,879.2 510.8,877.1 512.5,872.0 514.1,868.4 515.8,869.0 517.4,868.5 519.1,867.0 520.7,867.1 522.3,866.4 524.0,864.2 525.6,865.4 527.3,863.1 528.9,864.5 530.6,866.1 532.2,867.2 533.8,869.0 535.5,868.3" fill="none" stroke="#525252" stroke-width="1.1" stroke-linejoin="round"/>
<polyline points="129.7,804.6 131.3,807.4 133.0,810.3 134.6,813.6 136.3,817.2 137.9,821.2 139.6,825.4 141.2,830.0 142.8,835.0 144.5,840.4 146.1,846.2 147.8,852.3 149.4,858.8 151.1,866.5 152.7,875.4 154.3,885.1 156.0,895.6 157.6,906.9 159.3,918.5 160.9,930.8 162.6,942.7 164.2,953.9 165.8,964.3 167.5,973.3 169.1,981.0 170.8,987.8 172.4,994.1 174.1,999.5 175.7,1003.5 177.3,1007.1 179.0,1010.4 180.6,1013.3 182.3,1015.7 183.9,1017.6 185.6,1019.8 187.2,1019.8 188.8,1021.1 190.5,1021.9 192.1,1022.7 193.8,1024.1 195.4,1023.6 197.1,1023.7 198.7,1023.4 200.3,1022.7 202.0,1022.4 203.6,1021.1 205.3,1019.5 206.9,1018.7 208.6,1016.3 210.2,1016.5 211.8,1013.5 213.5,1013.2 215.1,1010.0 216.8,1007.5 218.4,1005.7 220.1,1004.2 221.7,1001.9 223.3,1000.0 225.0,997.9 226.6,995.6 228.3,993.0 229.9,991.5 231.6,988.3 233.2,986.9 234.8,983.7 236.5,981.4 238.1,978.9 239.8,976.9 241.4,972.4 243.1,971.1 244.7,967.9 246.3,965.4 248.0,962.0 249.6,960.3 251.3,956.4 252.9,956.2 254.6,956.8 256.2,956.7 257.8,956.5 259.5,956.8 261.1,958.0 262.8,958.0 264.4,957.3 266.1,956.3 267.7,955.4 269.3,953.8 271.0,954.5 272.6,953.3 274.3,951.7 275.9,951.5 277.6,951.0 279.2,950.3 280.8,949.3 282.5,948.2 284.1,947.9 285.8,946.5 287.4,944.6 289.1,945.9 290.7,946.9 292.3,948.2 294.0,948.3 295.6,946.6 297.3,945.4 298.9,943.5 300.6,941.2 302.2,939.9 303.8,938.1 305.5,937.4 307.1,937.5 308.8,936.3 310.4,937.1 312.1,935.6 313.7,934.9 315.3,933.4 317.0,934.5 318.6,934.0 320.3,932.6 321.9,929.2 323.6,927.5 325.2,926.1 326.8,924.1 328.5,922.2 330.1,921.3 331.8,919.1 333.4,917.2 335.1,917.9 336.7,916.5 338.3,914.3 340.0,913.6 341.6,913.7 343.3,912.1 344.9,912.3 346.6,910.1 348.2,910.7 349.8,909.3 351.5,908.2 353.1,906.9 354.8,908.6 356.4,909.6 358.1,910.6 359.7,911.3 361.3,911.7 363.0,911.4 364.6,911.3 366.3,910.2 367.9,909.2 369.6,907.6 371.2,907.1 372.8,905.4 374.5,904.6 376.1,903.7 377.8,902.9 379.4,902.5 381.1,900.8 382.7,899.1 384.3,897.8 386.0,897.0 387.6,896.2 389.3,895.3 390.9,895.1 392.6,894.3 394.2,896.9 395.8,897.1 397.5,898.1 399.1,900.2 400.8,901.3 402.4,902.8 404.1,902.5 405.7,902.5 407.3,901.2 409.0,902.1 410.6,901.7 412.3,900.8 413.9,900.1 415.6,900.7 417.2,899.5 418.8,900.1 420.5,899.3 422.1,897.5 423.8,897.0 425.4,898.0 427.1,897.9 428.7,897.7 430.3,897.1 432.0,897.5 433.6,896.4 435.3,897.2 436.9,895.9 438.6,896.1 440.2,895.9 441.8,897.1 443.5,896.1 445.1,895.8 446.8,895.9 448.4,894.9 450.1,894.7 451.7,893.5 453.3,892.3 455.0,892.2 456.6,891.8 458.3,890.9 459.9,891.7 461.6,891.3 463.2,891.0 464.8,890.5 466.5,889.1 468.1,888.4 469.8,888.7 471.4,892.4 473.1,895.3 474.7,897.0 476.3,898.6 478.0,900.2 479.6,900.4 481.3,902.1 482.9,900.4 484.6,897.1 486.2,896.5 487.8,893.7 489.5,893.9 491.1,895.5 492.8,896.7 494.4,897.0 496.1,896.3 497.7,894.0 499.3,893.2 501.0,891.5 502.6,889.4 504.3,889.1 505.9,889.1 507.6,888.2 509.2,888.0 510.8,889.0 512.5,891.2 514.1,892.2 515.8,892.8 517.4,895.4 519.1,895.5 520.7,895.3 522.3,893.9 524.0,893.9 525.6,891.5 527.3,891.2 528.9,892.7 530.6,892.4 532.2,892.5 533.8,892.4 535.5,892.7" fill="none" stroke="#da5060" stroke-width="1.1" stroke-linejoin="round"/>
<polyline points="129.7,792.3 131.3,792.3 133.0,792.3 134.6,792.4 136.3,792.5 137.9,792.0 139.6,791.0 141.2,790.2 142.8,789.5 144.5,789.2 146.1,789.0 147.8,789.1 149.4,789.5 151.1,792.8 152.7,805.5 154.3,819.9 156.0,831.1 157.6,841.8 159.3,853.7 160.9,866.8 162.6,879.4 164.2,890.1 165.8,898.7 167.5,906.5 169.1,913.7 170.8,920.5 172.4,927.3 174.1,934.1 175.7,941.6 177.3,948.6 179.0,952.5 180.6,952.5 182.3,950.9 183.9,949.9 185.6,948.2 187.2,948.4 188.8,950.2 190.5,956.0 192.1,960.8 193.8,965.4 195.4,967.0 197.1,970.5 198.7,973.2 200.3,973.5 202.0,974.2 203.6,972.9 205.3,971.8 206.9,970.1 208.6,969.9 210.2,969.5 211.8,968.3 213.5,967.9 215.1,966.0 216.8,963.7 218.4,959.1 220.1,955.5 221.7,952.0 223.3,946.7 225.0,942.8 226.6,939.2 228.3,937.3 229.9,932.4 231.6,930.3 233.2,926.8 234.8,924.1 236.5,920.4 238.1,918.0 239.8,918.4 241.4,915.2 243.1,913.9 244.7,912.6 246.3,911.1 248.0,909.2 249.6,909.6 251.3,906.9 252.9,905.5 254.6,904.7 256.2,904.7 257.8,903.6 259.5,901.7 261.1,900.3 262.8,900.6 264.4,898.1 266.1,897.8 267.7,896.1 269.3,896.1 271.0,894.0 272.6,893.5 274.3,892.8 275.9,891.3 277.6,889.9 279.2,888.6 280.8,887.3 282.5,886.9 284.1,888.2 285.8,887.6 287.4,886.7 289.1,886.7 290.7,887.0 292.3,887.8 294.0,888.3 295.6,888.3 297.3,890.0 298.9,889.3 300.6,889.9 302.2,891.0 303.8,891.3 305.5,892.4 307.1,892.6 308.8,893.1 310.4,894.3 312.1,894.3 313.7,893.7 315.3,891.5 317.0,890.8 318.6,890.2 320.3,888.2 321.9,887.9 323.6,886.0 325.2,885.4 326.8,884.6 328.5,882.9 330.1,882.0 331.8,883.4 333.4,884.4 335.1,885.3 336.7,886.8 338.3,887.0 340.0,886.0 341.6,880.6 343.3,875.1 344.9,875.2 346.6,877.0 348.2,877.1 349.8,877.8 351.5,878.9 353.1,879.9 354.8,880.4 356.4,881.0 358.1,883.2 359.7,884.7 361.3,885.8 363.0,886.9 364.6,885.6 366.3,884.3 367.9,884.2 369.6,881.4 371.2,879.9 372.8,879.7 374.5,878.6 376.1,876.1 377.8,879.3 379.4,881.2 381.1,882.7 382.7,884.7 384.3,883.0 386.0,880.4 387.6,878.6 389.3,876.5 390.9,874.5 392.6,872.1 394.2,870.4 395.8,867.8 397.5,865.2 399.1,864.5 400.8,865.7 402.4,865.6 404.1,867.6 405.7,868.3 407.3,869.0 409.0,869.3 410.6,869.0 412.3,869.0 413.9,870.0 415.6,872.0 417.2,870.8 418.8,872.8 420.5,872.9 422.1,873.9 423.8,875.3 425.4,874.5 427.1,875.9 428.7,877.6 430.3,877.5 432.0,878.2 433.6,879.4 435.3,878.7 436.9,878.9 438.6,879.9 440.2,879.0 441.8,880.9 443.5,880.5 445.1,881.6 446.8,881.3 448.4,882.0 450.1,882.1 451.7,883.2 453.3,883.1 455.0,884.7 456.6,884.4 458.3,885.3 459.9,885.9 461.6,886.4 463.2,885.7 464.8,885.4 466.5,885.1 468.1,884.6 469.8,884.3 471.4,883.1 473.1,883.0 474.7,883.4 476.3,882.5 478.0,880.3 479.6,879.8 481.3,879.4 482.9,877.8 484.6,878.3 486.2,876.6 487.8,876.1 489.5,875.5 491.1,874.9 492.8,874.4 494.4,872.9 496.1,872.7 497.7,872.1 499.3,871.2 501.0,871.1 502.6,871.3 504.3,869.4 505.9,868.6 507.6,869.9 509.2,868.9 510.8,868.8 512.5,868.8 514.1,868.3 515.8,868.4 517.4,867.2 519.1,868.0 520.7,867.3 522.3,868.8 524.0,867.6 525.6,868.5 527.3,869.3 528.9,868.3 530.6,868.4 532.2,869.1 533.8,870.1 535.5,870.1" fill="none" stroke="#4242c8" stroke-width="1.3" stroke-linejoin="round"/>
<polyline points="125.6,764.8 125.6,1065.5 536.3,1065.5 536.3,1062.5" fill="none" stroke="#7a7a7a" stroke-width="1.3"/>
<line x1="125.6" y1="764.8" x2="130.1" y2="764.8" stroke="#7a7a7a" stroke-width="1.1"/>
<text x="119.3" y="771.4" font-family="'Liberation Serif', serif" font-size="20" font-weight="bold" font-style="normal" text-anchor="end" fill="#111" >0.2</text>
<line x1="125.6" y1="814.9" x2="130.1" y2="814.9" stroke="#7a7a7a" stroke-width="1.1"/>
<text x="119.3" y="821.5" font-family="'Liberation Serif', serif" font-size="20" font-weight="bold" font-style="normal" text-anchor="end" fill="#111" >0</text>
<line x1="125.6" y1="865.0" x2="130.1" y2="865.0" stroke="#7a7a7a" stroke-width="1.1"/>
<text x="119.3" y="871.6" font-family="'Liberation Serif', serif" font-size="20" font-weight="bold" font-style="normal" text-anchor="end" fill="#111" >-0.2</text>
<line x1="125.6" y1="915.1" x2="130.1" y2="915.1" stroke="#7a7a7a" stroke-width="1.1"/>
<text x="119.3" y="921.7" font-family="'Liberation Serif', serif" font-size="20" font-weight="bold" font-style="normal" text-anchor="end" fill="#111" >-0.4</text>
<line x1="125.6" y1="965.3" x2="130.1" y2="965.3" stroke="#7a7a7a" stroke-width="1.1"/>
<text x="119.3" y="971.9" font-family="'Liberation Serif', serif" font-size="20" font-weight="bold" font-style="normal" text-anchor="end" fill="#111" >-0.6</text>
<line x1="125.6" y1="1015.4" x2="130.1" y2="1015.4" stroke="#7a7a7a" stroke-width="1.1"/>
<text x="119.3" y="1022.0" font-family="'Liberation Serif', serif" font-size="20" font-weight="bold" font-style="normal" text-anchor="end" fill="#111" >-0.8</text>
<line x1="125.6" y1="1065.5" x2="130.1" y2="1065.5" stroke="#7a7a7a" stroke-width="1.1"/>
<text x="119.3" y="1072.1" font-family="'Liberation Serif', serif" font-size="20" font-weight="bold" font-style="normal" text-anchor="end" fill="#111" >-1</text>
<text x="125.6" y="1089.5" font-family="'Liberation Serif', serif" font-size="20" font-weight="bold" font-style="normal" text-anchor="middle" fill="#111" >0</text>
<line x1="207.7" y1="1065.5" x2="207.7" y2="1061.0" stroke="#7a7a7a" stroke-width="1.1"/>
<text x="207.7" y="1089.5" font-family="'Liberation Serif', serif" font-size="20" font-weight="bold" font-style="normal" text-anchor="middle" fill="#111" >1</text>
<line x1="289.9" y1="1065.5" x2="289.9" y2="1061.0" stroke="#7a7a7a" stroke-width="1.1"/>
<text x="289.9" y="1089.5" font-family="'Liberation Serif', serif" font-size="20" font-weight="bold" font-style="normal" text-anchor="middle" fill="#111" >2</text>
<line x1="372.0" y1="1065.5" x2="372.0" y2="1061.0" stroke="#7a7a7a" stroke-width="1.1"/>
<text x="372.0" y="1089.5" font-family="'Liberation Serif', serif" font-size="20" font-weight="bold" font-style="normal" text-anchor="middle" fill="#111" >3</text>
<line x1="454.2" y1="1065.5" x2="454.2" y2="1061.0" stroke="#7a7a7a" stroke-width="1.1"/>
<text x="454.2" y="1089.5" font-family="'Liberation Serif', serif" font-size="20" font-weight="bold" font-style="normal" text-anchor="middle" fill="#111" >4</text>
<text x="536.3" y="1089.5" font-family="'Liberation Serif', serif" font-size="20" font-weight="bold" font-style="normal" text-anchor="middle" fill="#111" >5</text>
<text x="0" y="0" transform="translate(74.6,920) rotate(-90)" font-family="'Liberation Serif', serif" font-size="21.1" font-weight="bold" text-anchor="middle" fill="#111">Pupil size change (mm)</text>
<text x="330.7" y="1112.3" font-family="'Liberation Serif', serif" font-size="20" font-weight="bold" font-style="normal" text-anchor="middle" fill="#111" >Time (second)</text>
<rect x="429.2" y="761.4" width="96.50000000000006" height="59.10000000000002" fill="#fff" stroke="#555" stroke-width="1.1"/>
<rect x="439" y="770.3" width="11" height="10.5" fill="#05051a"/>
<rect x="439" y="786.3" width="11" height="10.5" fill="#0a0af0"/>
<rect x="439" y="802.4" width="11" height="10.5" fill="#f01010"/>
<text x="453.7" y="779.2" font-family="'Liberation Serif', serif" font-size="14.5" font-weight="normal" font-style="normal" text-anchor="start" fill="#111" >Neutral</text>
<text x="453.7" y="796.6" font-family="'Liberation Serif', serif" font-size="14.5" font-weight="normal" font-style="normal" text-anchor="start" fill="#111" >Unpleasant</text>
<text x="453.7" y="814.0" font-family="'Liberation Serif', serif" font-size="14.5" font-weight="normal" font-style="normal" text-anchor="start" fill="#111" >Pleasant</text>
<text x="323.3" y="996.2" font-family="'Liberation Serif', serif" font-size="14.3" font-weight="bold" fill="#111" xml:space="preserve" textLength="184.5" lengthAdjust="spacingAndGlyphs">Emotion: <tspan font-style="italic">F</tspan> = 15.96, <tspan font-style="italic">P</tspan> &lt; 0.001</text>
<text x="323.3" y="1013.9" font-family="'Liberation Serif', serif" font-size="14.3" font-weight="bold" fill="#111" xml:space="preserve" textLength="162" lengthAdjust="spacingAndGlyphs">Time: <tspan font-style="italic">F</tspan> = 43.35, P &lt; 0.001</text>
<text x="323.3" y="1031.6" font-family="'Liberation Serif', serif" font-size="14.3" font-weight="bold" fill="#111" xml:space="preserve" textLength="227.5" lengthAdjust="spacingAndGlyphs">Emotion x Time:  <tspan font-style="italic">F</tspan> = 1.99, <tspan font-style="italic">P</tspan> = 0.156</text>
</svg>
</body></html>
